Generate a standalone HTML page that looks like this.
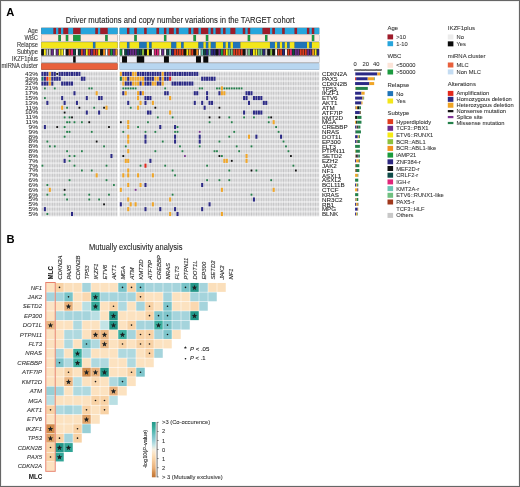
<!DOCTYPE html>
<html><head><meta charset="utf-8"><style>
html,body{margin:0;padding:0;background:#fff;}
body{width:520px;height:487px;overflow:hidden;position:relative;}
svg{position:absolute;left:0;top:0;font-family:"Liberation Sans", sans-serif;transform:translateZ(0);}
.frame{position:absolute;left:0;top:0;width:518px;height:485px;border:1px solid #666;box-shadow:inset 0 0 0 1px rgba(0,0,0,0.06);}
</style></head><body>
<svg width="520" height="487" viewBox="0 0 520 487">
<text x="6.3" y="15.7" font-size="11.2" text-anchor="start" font-weight="bold" font-style="normal" fill="#000" >A</text>
<text x="65.8" y="22.6" font-size="8.2" text-anchor="start" font-weight="normal" font-style="normal" fill="#222" stroke="#222" stroke-width="0.08" textLength="228.8" lengthAdjust="spacingAndGlyphs" >Driver mutations and copy number variations in the TARGET cohort</text>
<text x="38.0" y="32.6" font-size="6.44" text-anchor="end" font-weight="normal" font-style="normal" fill="#333" stroke="#333" stroke-width="0.08" textLength="10.23" lengthAdjust="spacingAndGlyphs" >Age</text>
<text x="38.0" y="39.72" font-size="6.44" text-anchor="end" font-weight="normal" font-style="normal" fill="#333" stroke="#333" stroke-width="0.08" textLength="13.42" lengthAdjust="spacingAndGlyphs" >WBC</text>
<text x="38.0" y="46.839999999999996" font-size="6.44" text-anchor="end" font-weight="normal" font-style="normal" fill="#333" stroke="#333" stroke-width="0.08" textLength="21.1" lengthAdjust="spacingAndGlyphs" >Relapse</text>
<text x="38.0" y="53.96" font-size="6.44" text-anchor="end" font-weight="normal" font-style="normal" fill="#333" stroke="#333" stroke-width="0.08" textLength="21.1" lengthAdjust="spacingAndGlyphs" >Subtype</text>
<text x="38.0" y="61.08" font-size="6.44" text-anchor="end" font-weight="normal" font-style="normal" fill="#333" stroke="#333" stroke-width="0.08" textLength="26.2" lengthAdjust="spacingAndGlyphs" >IKZF1plus</text>
<text x="38.0" y="68.2" font-size="6.44" text-anchor="end" font-weight="normal" font-style="normal" fill="#333" stroke="#333" stroke-width="0.08" textLength="36.42" lengthAdjust="spacingAndGlyphs" >miRNA cluster</text>
<rect x="41.20" y="27.70" width="76.41" height="6.50" fill="#555" />
<rect x="119.60" y="27.70" width="199.66" height="6.50" fill="#555" />
<rect x="41.25" y="27.90" width="12.23" height="6.10" fill="#27a5dc" />
<rect x="53.58" y="27.90" width="2.37" height="6.10" fill="#9e1b2a" />
<rect x="56.04" y="27.90" width="2.36" height="6.10" fill="#27a5dc" />
<rect x="58.50" y="27.90" width="2.37" height="6.10" fill="#9e1b2a" />
<rect x="60.97" y="27.90" width="2.37" height="6.10" fill="#27a5dc" />
<rect x="63.44" y="27.90" width="4.83" height="6.10" fill="#9e1b2a" />
<rect x="68.36" y="27.90" width="4.83" height="6.10" fill="#27a5dc" />
<rect x="73.30" y="27.90" width="7.29" height="6.10" fill="#9e1b2a" />
<rect x="80.69" y="27.90" width="14.69" height="6.10" fill="#27a5dc" />
<rect x="95.48" y="27.90" width="2.37" height="6.10" fill="#9e1b2a" />
<rect x="97.94" y="27.90" width="2.37" height="6.10" fill="#27a5dc" />
<rect x="100.41" y="27.90" width="7.30" height="6.10" fill="#9e1b2a" />
<rect x="107.80" y="27.90" width="9.76" height="6.10" fill="#27a5dc" />
<rect x="119.65" y="27.90" width="7.30" height="6.10" fill="#27a5dc" />
<rect x="127.04" y="27.90" width="2.36" height="6.10" fill="#9e1b2a" />
<rect x="129.51" y="27.90" width="4.83" height="6.10" fill="#27a5dc" />
<rect x="134.44" y="27.90" width="2.37" height="6.10" fill="#9e1b2a" />
<rect x="136.91" y="27.90" width="7.30" height="6.10" fill="#27a5dc" />
<rect x="144.30" y="27.90" width="2.37" height="6.10" fill="#9e1b2a" />
<rect x="146.77" y="27.90" width="9.76" height="6.10" fill="#27a5dc" />
<rect x="156.62" y="27.90" width="2.37" height="6.10" fill="#9e1b2a" />
<rect x="159.09" y="27.90" width="4.83" height="6.10" fill="#27a5dc" />
<rect x="164.02" y="27.90" width="2.37" height="6.10" fill="#9e1b2a" />
<rect x="166.49" y="27.90" width="2.37" height="6.10" fill="#27a5dc" />
<rect x="168.95" y="27.90" width="4.83" height="6.10" fill="#9e1b2a" />
<rect x="173.88" y="27.90" width="2.37" height="6.10" fill="#27a5dc" />
<rect x="176.34" y="27.90" width="2.37" height="6.10" fill="#9e1b2a" />
<rect x="178.81" y="27.90" width="9.76" height="6.10" fill="#27a5dc" />
<rect x="188.67" y="27.90" width="2.37" height="6.10" fill="#9e1b2a" />
<rect x="191.13" y="27.90" width="2.37" height="6.10" fill="#27a5dc" />
<rect x="193.60" y="27.90" width="4.83" height="6.10" fill="#9e1b2a" />
<rect x="198.53" y="27.90" width="2.37" height="6.10" fill="#27a5dc" />
<rect x="201.00" y="27.90" width="7.30" height="6.10" fill="#9e1b2a" />
<rect x="208.39" y="27.90" width="2.37" height="6.10" fill="#27a5dc" />
<rect x="210.86" y="27.90" width="2.37" height="6.10" fill="#9e1b2a" />
<rect x="213.32" y="27.90" width="2.37" height="6.10" fill="#27a5dc" />
<rect x="215.78" y="27.90" width="4.83" height="6.10" fill="#9e1b2a" />
<rect x="220.72" y="27.90" width="2.37" height="6.10" fill="#27a5dc" />
<rect x="223.18" y="27.90" width="2.37" height="6.10" fill="#9e1b2a" />
<rect x="225.64" y="27.90" width="4.83" height="6.10" fill="#27a5dc" />
<rect x="230.57" y="27.90" width="4.83" height="6.10" fill="#9e1b2a" />
<rect x="235.50" y="27.90" width="7.30" height="6.10" fill="#27a5dc" />
<rect x="242.90" y="27.90" width="2.37" height="6.10" fill="#9e1b2a" />
<rect x="245.37" y="27.90" width="2.37" height="6.10" fill="#27a5dc" />
<rect x="247.83" y="27.90" width="2.37" height="6.10" fill="#9e1b2a" />
<rect x="250.29" y="27.90" width="12.23" height="6.10" fill="#27a5dc" />
<rect x="262.62" y="27.90" width="7.29" height="6.10" fill="#9e1b2a" />
<rect x="270.01" y="27.90" width="2.36" height="6.10" fill="#27a5dc" />
<rect x="272.48" y="27.90" width="2.36" height="6.10" fill="#9e1b2a" />
<rect x="274.94" y="27.90" width="7.29" height="6.10" fill="#27a5dc" />
<rect x="282.34" y="27.90" width="2.36" height="6.10" fill="#9e1b2a" />
<rect x="284.81" y="27.90" width="9.76" height="6.10" fill="#27a5dc" />
<rect x="294.67" y="27.90" width="2.36" height="6.10" fill="#9e1b2a" />
<rect x="297.13" y="27.90" width="9.76" height="6.10" fill="#27a5dc" />
<rect x="306.99" y="27.90" width="2.36" height="6.10" fill="#9e1b2a" />
<rect x="309.45" y="27.90" width="2.36" height="6.10" fill="#27a5dc" />
<rect x="311.92" y="27.90" width="2.36" height="6.10" fill="#9e1b2a" />
<rect x="314.38" y="27.90" width="4.83" height="6.10" fill="#27a5dc" />
<rect x="41.20" y="34.82" width="76.41" height="6.50" fill="#555" />
<rect x="119.60" y="34.82" width="199.66" height="6.50" fill="#555" />
<rect x="41.25" y="35.02" width="17.15" height="6.10" fill="#fde9e0" />
<rect x="58.50" y="35.02" width="2.37" height="6.10" fill="#1c9a40" />
<rect x="60.97" y="35.02" width="4.83" height="6.10" fill="#fde9e0" />
<rect x="65.90" y="35.02" width="2.37" height="6.10" fill="#1c9a40" />
<rect x="68.36" y="35.02" width="4.83" height="6.10" fill="#fde9e0" />
<rect x="73.30" y="35.02" width="7.29" height="6.10" fill="#1c9a40" />
<rect x="80.69" y="35.02" width="24.55" height="6.10" fill="#fde9e0" />
<rect x="105.34" y="35.02" width="2.37" height="6.10" fill="#1c9a40" />
<rect x="107.80" y="35.02" width="9.76" height="6.10" fill="#fde9e0" />
<rect x="119.65" y="35.02" width="14.69" height="6.10" fill="#fde9e0" />
<rect x="134.44" y="35.02" width="2.37" height="6.10" fill="#1c9a40" />
<rect x="136.91" y="35.02" width="27.02" height="6.10" fill="#fde9e0" />
<rect x="164.02" y="35.02" width="2.37" height="6.10" fill="#1c9a40" />
<rect x="166.49" y="35.02" width="27.01" height="6.10" fill="#fde9e0" />
<rect x="193.60" y="35.02" width="2.37" height="6.10" fill="#1c9a40" />
<rect x="196.06" y="35.02" width="9.76" height="6.10" fill="#fde9e0" />
<rect x="205.93" y="35.02" width="2.37" height="6.10" fill="#1c9a40" />
<rect x="208.39" y="35.02" width="39.34" height="6.10" fill="#fde9e0" />
<rect x="247.83" y="35.02" width="2.37" height="6.10" fill="#1c9a40" />
<rect x="250.29" y="35.02" width="14.69" height="6.10" fill="#fde9e0" />
<rect x="265.08" y="35.02" width="2.36" height="6.10" fill="#1c9a40" />
<rect x="267.55" y="35.02" width="44.27" height="6.10" fill="#fde9e0" />
<rect x="311.92" y="35.02" width="2.36" height="6.10" fill="#1c9a40" />
<rect x="314.38" y="35.02" width="4.83" height="6.10" fill="#fde9e0" />
<rect x="41.20" y="41.94" width="76.41" height="6.50" fill="#555" />
<rect x="119.60" y="41.94" width="199.66" height="6.50" fill="#555" />
<rect x="41.25" y="42.14" width="51.66" height="6.10" fill="#f3e61a" />
<rect x="93.02" y="42.14" width="2.37" height="6.10" fill="#1f74b8" />
<rect x="95.48" y="42.14" width="22.08" height="6.10" fill="#f3e61a" />
<rect x="119.65" y="42.14" width="7.30" height="6.10" fill="#f3e61a" />
<rect x="127.04" y="42.14" width="2.36" height="6.10" fill="#1f74b8" />
<rect x="129.51" y="42.14" width="9.76" height="6.10" fill="#f3e61a" />
<rect x="139.37" y="42.14" width="7.30" height="6.10" fill="#1f74b8" />
<rect x="146.77" y="42.14" width="2.37" height="6.10" fill="#f3e61a" />
<rect x="149.23" y="42.14" width="2.37" height="6.10" fill="#1f74b8" />
<rect x="151.69" y="42.14" width="19.62" height="6.10" fill="#f3e61a" />
<rect x="171.42" y="42.14" width="4.83" height="6.10" fill="#1f74b8" />
<rect x="176.34" y="42.14" width="4.83" height="6.10" fill="#f3e61a" />
<rect x="181.28" y="42.14" width="2.37" height="6.10" fill="#1f74b8" />
<rect x="183.74" y="42.14" width="14.69" height="6.10" fill="#f3e61a" />
<rect x="198.53" y="42.14" width="4.83" height="6.10" fill="#1f74b8" />
<rect x="203.46" y="42.14" width="2.37" height="6.10" fill="#f3e61a" />
<rect x="205.93" y="42.14" width="2.37" height="6.10" fill="#1f74b8" />
<rect x="208.39" y="42.14" width="2.37" height="6.10" fill="#f3e61a" />
<rect x="210.86" y="42.14" width="4.83" height="6.10" fill="#1f74b8" />
<rect x="215.78" y="42.14" width="7.30" height="6.10" fill="#f3e61a" />
<rect x="223.18" y="42.14" width="2.37" height="6.10" fill="#1f74b8" />
<rect x="225.64" y="42.14" width="2.37" height="6.10" fill="#f3e61a" />
<rect x="228.11" y="42.14" width="2.37" height="6.10" fill="#1f74b8" />
<rect x="230.57" y="42.14" width="2.37" height="6.10" fill="#f3e61a" />
<rect x="233.04" y="42.14" width="7.30" height="6.10" fill="#1f74b8" />
<rect x="240.44" y="42.14" width="29.48" height="6.10" fill="#f3e61a" />
<rect x="270.01" y="42.14" width="4.83" height="6.10" fill="#1f74b8" />
<rect x="274.94" y="42.14" width="2.36" height="6.10" fill="#f3e61a" />
<rect x="277.41" y="42.14" width="2.36" height="6.10" fill="#1f74b8" />
<rect x="279.88" y="42.14" width="2.36" height="6.10" fill="#f3e61a" />
<rect x="282.34" y="42.14" width="2.36" height="6.10" fill="#1f74b8" />
<rect x="284.81" y="42.14" width="2.36" height="6.10" fill="#f3e61a" />
<rect x="287.27" y="42.14" width="2.36" height="6.10" fill="#1f74b8" />
<rect x="289.73" y="42.14" width="4.83" height="6.10" fill="#f3e61a" />
<rect x="294.67" y="42.14" width="12.22" height="6.10" fill="#1f74b8" />
<rect x="306.99" y="42.14" width="2.36" height="6.10" fill="#f3e61a" />
<rect x="309.45" y="42.14" width="2.36" height="6.10" fill="#1f74b8" />
<rect x="311.92" y="42.14" width="7.29" height="6.10" fill="#f3e61a" />
<rect x="41.20" y="49.06" width="76.41" height="6.50" fill="#1a1a1a" />
<rect x="119.60" y="49.06" width="199.66" height="6.50" fill="#1a1a1a" />
<rect x="41.50" y="49.26" width="1.86" height="6.10" fill="#111111" />
<rect x="43.97" y="49.26" width="1.86" height="6.10" fill="#f6ea14" />
<rect x="46.43" y="49.26" width="1.86" height="6.10" fill="#c8c8c8" />
<rect x="48.89" y="49.26" width="1.86" height="6.10" fill="#c8c8c8" />
<rect x="51.36" y="49.26" width="1.86" height="6.10" fill="#6a2c8c" />
<rect x="53.83" y="49.26" width="1.86" height="6.10" fill="#ffffff" />
<rect x="56.29" y="49.26" width="1.86" height="6.10" fill="#6a2c8c" />
<rect x="58.75" y="49.26" width="1.86" height="6.10" fill="#f6ea14" />
<rect x="61.22" y="49.26" width="1.86" height="6.10" fill="#f6ea14" />
<rect x="63.69" y="49.26" width="1.86" height="6.10" fill="#ffffff" />
<rect x="66.15" y="49.26" width="1.86" height="6.10" fill="#111111" />
<rect x="68.61" y="49.26" width="1.86" height="6.10" fill="#e03c1e" />
<rect x="71.08" y="49.26" width="1.86" height="6.10" fill="#e0267a" />
<rect x="73.55" y="49.26" width="1.86" height="6.10" fill="#0e4a48" />
<rect x="76.01" y="49.26" width="1.86" height="6.10" fill="#ffffff" />
<rect x="78.47" y="49.26" width="1.86" height="6.10" fill="#0e4a48" />
<rect x="80.94" y="49.26" width="1.86" height="6.10" fill="#e03c1e" />
<rect x="83.41" y="49.26" width="1.86" height="6.10" fill="#6a2c8c" />
<rect x="85.87" y="49.26" width="1.86" height="6.10" fill="#f6ea14" />
<rect x="88.33" y="49.26" width="1.86" height="6.10" fill="#e03c1e" />
<rect x="90.80" y="49.26" width="1.86" height="6.10" fill="#6a2c8c" />
<rect x="93.27" y="49.26" width="1.86" height="6.10" fill="#e03c1e" />
<rect x="95.73" y="49.26" width="1.86" height="6.10" fill="#e03c1e" />
<rect x="98.19" y="49.26" width="1.86" height="6.10" fill="#f6ea14" />
<rect x="100.66" y="49.26" width="1.86" height="6.10" fill="#111111" />
<rect x="103.12" y="49.26" width="1.86" height="6.10" fill="#f39020" />
<rect x="105.59" y="49.26" width="1.86" height="6.10" fill="#ffffff" />
<rect x="108.05" y="49.26" width="1.86" height="6.10" fill="#e03c1e" />
<rect x="110.52" y="49.26" width="1.86" height="6.10" fill="#1a9a3c" />
<rect x="112.98" y="49.26" width="1.86" height="6.10" fill="#6a2c8c" />
<rect x="115.45" y="49.26" width="1.86" height="6.10" fill="#f39020" />
<rect x="119.90" y="49.26" width="1.86" height="6.10" fill="#1a9a3c" />
<rect x="122.36" y="49.26" width="1.86" height="6.10" fill="#ffffff" />
<rect x="124.83" y="49.26" width="1.86" height="6.10" fill="#0e4a48" />
<rect x="127.29" y="49.26" width="1.86" height="6.10" fill="#2c2780" />
<rect x="129.76" y="49.26" width="1.86" height="6.10" fill="#6a2c8c" />
<rect x="132.22" y="49.26" width="1.86" height="6.10" fill="#6a2c8c" />
<rect x="134.69" y="49.26" width="1.86" height="6.10" fill="#6a2c8c" />
<rect x="137.16" y="49.26" width="1.86" height="6.10" fill="#0e4a48" />
<rect x="139.62" y="49.26" width="1.86" height="6.10" fill="#0e4a48" />
<rect x="142.09" y="49.26" width="1.86" height="6.10" fill="#8cc03c" />
<rect x="144.55" y="49.26" width="1.86" height="6.10" fill="#111111" />
<rect x="147.02" y="49.26" width="1.86" height="6.10" fill="#f6ea14" />
<rect x="149.48" y="49.26" width="1.86" height="6.10" fill="#111111" />
<rect x="151.94" y="49.26" width="1.86" height="6.10" fill="#ffffff" />
<rect x="154.41" y="49.26" width="1.86" height="6.10" fill="#e0267a" />
<rect x="156.88" y="49.26" width="1.86" height="6.10" fill="#e0267a" />
<rect x="159.34" y="49.26" width="1.86" height="6.10" fill="#ffffff" />
<rect x="161.81" y="49.26" width="1.86" height="6.10" fill="#6a2c8c" />
<rect x="164.27" y="49.26" width="1.86" height="6.10" fill="#ffffff" />
<rect x="166.74" y="49.26" width="1.86" height="6.10" fill="#0e4a48" />
<rect x="169.20" y="49.26" width="1.86" height="6.10" fill="#6cc4b4" />
<rect x="171.67" y="49.26" width="1.86" height="6.10" fill="#2c2780" />
<rect x="174.13" y="49.26" width="1.86" height="6.10" fill="#e03c1e" />
<rect x="176.59" y="49.26" width="1.86" height="6.10" fill="#e03c1e" />
<rect x="179.06" y="49.26" width="1.86" height="6.10" fill="#e03c1e" />
<rect x="181.53" y="49.26" width="1.86" height="6.10" fill="#e03c1e" />
<rect x="183.99" y="49.26" width="1.86" height="6.10" fill="#111111" />
<rect x="186.45" y="49.26" width="1.86" height="6.10" fill="#f6ea14" />
<rect x="188.92" y="49.26" width="1.86" height="6.10" fill="#f39020" />
<rect x="191.38" y="49.26" width="1.86" height="6.10" fill="#e03c1e" />
<rect x="193.85" y="49.26" width="1.86" height="6.10" fill="#111111" />
<rect x="196.31" y="49.26" width="1.86" height="6.10" fill="#f39020" />
<rect x="198.78" y="49.26" width="1.86" height="6.10" fill="#ffffff" />
<rect x="201.25" y="49.26" width="1.86" height="6.10" fill="#6cc4b4" />
<rect x="203.71" y="49.26" width="1.86" height="6.10" fill="#0e4a48" />
<rect x="206.18" y="49.26" width="1.86" height="6.10" fill="#2c2780" />
<rect x="208.64" y="49.26" width="1.86" height="6.10" fill="#6cc4b4" />
<rect x="211.11" y="49.26" width="1.86" height="6.10" fill="#2c2780" />
<rect x="213.57" y="49.26" width="1.86" height="6.10" fill="#2c2780" />
<rect x="216.03" y="49.26" width="1.86" height="6.10" fill="#111111" />
<rect x="218.50" y="49.26" width="1.86" height="6.10" fill="#6a2c8c" />
<rect x="220.97" y="49.26" width="1.86" height="6.10" fill="#1a9a3c" />
<rect x="223.43" y="49.26" width="1.86" height="6.10" fill="#e03c1e" />
<rect x="225.89" y="49.26" width="1.86" height="6.10" fill="#f6ea14" />
<rect x="228.36" y="49.26" width="1.86" height="6.10" fill="#70c080" />
<rect x="230.82" y="49.26" width="1.86" height="6.10" fill="#70c080" />
<rect x="233.29" y="49.26" width="1.86" height="6.10" fill="#e03c1e" />
<rect x="235.75" y="49.26" width="1.86" height="6.10" fill="#e03c1e" />
<rect x="238.22" y="49.26" width="1.86" height="6.10" fill="#e03c1e" />
<rect x="240.69" y="49.26" width="1.86" height="6.10" fill="#e03c1e" />
<rect x="243.15" y="49.26" width="1.86" height="6.10" fill="#111111" />
<rect x="245.62" y="49.26" width="1.86" height="6.10" fill="#c8c8c8" />
<rect x="248.08" y="49.26" width="1.86" height="6.10" fill="#70c080" />
<rect x="250.54" y="49.26" width="1.86" height="6.10" fill="#2c2780" />
<rect x="253.01" y="49.26" width="1.86" height="6.10" fill="#f6ea14" />
<rect x="255.47" y="49.26" width="1.86" height="6.10" fill="#f6ea14" />
<rect x="257.94" y="49.26" width="1.86" height="6.10" fill="#70c080" />
<rect x="260.41" y="49.26" width="1.86" height="6.10" fill="#70c080" />
<rect x="262.87" y="49.26" width="1.86" height="6.10" fill="#2c2780" />
<rect x="265.33" y="49.26" width="1.86" height="6.10" fill="#c8c8c8" />
<rect x="267.80" y="49.26" width="1.86" height="6.10" fill="#111111" />
<rect x="270.26" y="49.26" width="1.86" height="6.10" fill="#8cc03c" />
<rect x="272.73" y="49.26" width="1.86" height="6.10" fill="#111111" />
<rect x="275.19" y="49.26" width="1.86" height="6.10" fill="#ffffff" />
<rect x="277.66" y="49.26" width="1.86" height="6.10" fill="#e03c1e" />
<rect x="280.12" y="49.26" width="1.86" height="6.10" fill="#e03c1e" />
<rect x="282.59" y="49.26" width="1.86" height="6.10" fill="#2c2780" />
<rect x="285.06" y="49.26" width="1.86" height="6.10" fill="#ffffff" />
<rect x="287.52" y="49.26" width="1.86" height="6.10" fill="#e03c1e" />
<rect x="289.98" y="49.26" width="1.86" height="6.10" fill="#e0267a" />
<rect x="292.45" y="49.26" width="1.86" height="6.10" fill="#0e4a48" />
<rect x="294.92" y="49.26" width="1.86" height="6.10" fill="#6a2c8c" />
<rect x="297.38" y="49.26" width="1.86" height="6.10" fill="#6a2c8c" />
<rect x="299.84" y="49.26" width="1.86" height="6.10" fill="#e03c1e" />
<rect x="302.31" y="49.26" width="1.86" height="6.10" fill="#e03c1e" />
<rect x="304.78" y="49.26" width="1.86" height="6.10" fill="#e03c1e" />
<rect x="307.24" y="49.26" width="1.86" height="6.10" fill="#6a2c8c" />
<rect x="309.70" y="49.26" width="1.86" height="6.10" fill="#6a2c8c" />
<rect x="312.17" y="49.26" width="1.86" height="6.10" fill="#f39020" />
<rect x="314.63" y="49.26" width="1.86" height="6.10" fill="#f6ea14" />
<rect x="317.10" y="49.26" width="1.86" height="6.10" fill="#2c2780" />
<rect x="41.20" y="56.18" width="76.41" height="6.50" fill="#555" />
<rect x="119.60" y="56.18" width="199.66" height="6.50" fill="#555" />
<rect x="41.25" y="56.38" width="31.95" height="6.10" fill="#eeeef4" />
<rect x="73.30" y="56.38" width="2.37" height="6.10" fill="#0a0a0a" />
<rect x="75.76" y="56.38" width="41.80" height="6.10" fill="#eeeef4" />
<rect x="119.65" y="56.38" width="2.37" height="6.10" fill="#eeeef4" />
<rect x="122.11" y="56.38" width="4.83" height="6.10" fill="#0a0a0a" />
<rect x="127.04" y="56.38" width="9.76" height="6.10" fill="#eeeef4" />
<rect x="136.91" y="56.38" width="7.30" height="6.10" fill="#0a0a0a" />
<rect x="144.30" y="56.38" width="19.62" height="6.10" fill="#eeeef4" />
<rect x="164.02" y="56.38" width="4.83" height="6.10" fill="#0a0a0a" />
<rect x="168.95" y="56.38" width="27.02" height="6.10" fill="#eeeef4" />
<rect x="196.06" y="56.38" width="4.83" height="6.10" fill="#0a0a0a" />
<rect x="201.00" y="56.38" width="2.37" height="6.10" fill="#eeeef4" />
<rect x="203.46" y="56.38" width="4.83" height="6.10" fill="#0a0a0a" />
<rect x="208.39" y="56.38" width="110.82" height="6.10" fill="#eeeef4" />
<rect x="41.20" y="63.30" width="76.41" height="6.50" fill="#8a3a20" />
<rect x="41.40" y="63.50" width="76.01" height="5.90" fill="#e8603c" />
<rect x="119.60" y="63.30" width="199.66" height="6.50" fill="#8aa0b8" />
<rect x="119.80" y="63.50" width="199.26" height="5.90" fill="#b8d6f0" />
<text x="321.9" y="76.11500000000001" font-size="6.25" text-anchor="start" font-weight="normal" font-style="normal" fill="#222" stroke="#222" stroke-width="0.08" >CDKN2A</text>
<text x="38.0" y="75.81500000000001" font-size="5.72" text-anchor="end" font-weight="normal" font-style="normal" fill="#333" stroke="#333" stroke-width="0.08" textLength="13.01" lengthAdjust="spacingAndGlyphs" >43%</text>
<text x="321.9" y="80.94500000000001" font-size="6.25" text-anchor="start" font-weight="normal" font-style="normal" fill="#222" stroke="#222" stroke-width="0.08" >PAX5</text>
<text x="38.0" y="80.64500000000001" font-size="5.72" text-anchor="end" font-weight="normal" font-style="normal" fill="#333" stroke="#333" stroke-width="0.08" textLength="13.01" lengthAdjust="spacingAndGlyphs" >34%</text>
<text x="321.9" y="85.775" font-size="6.25" text-anchor="start" font-weight="normal" font-style="normal" fill="#222" stroke="#222" stroke-width="0.08" >CDKN2B</text>
<text x="38.0" y="85.47500000000001" font-size="5.72" text-anchor="end" font-weight="normal" font-style="normal" fill="#333" stroke="#333" stroke-width="0.08" textLength="13.01" lengthAdjust="spacingAndGlyphs" >32%</text>
<text x="321.9" y="90.605" font-size="6.25" text-anchor="start" font-weight="normal" font-style="normal" fill="#222" stroke="#222" stroke-width="0.08" >TP53</text>
<text x="38.0" y="90.305" font-size="5.72" text-anchor="end" font-weight="normal" font-style="normal" fill="#333" stroke="#333" stroke-width="0.08" textLength="13.01" lengthAdjust="spacingAndGlyphs" >21%</text>
<text x="321.9" y="95.435" font-size="6.25" text-anchor="start" font-weight="normal" font-style="normal" fill="#222" stroke="#222" stroke-width="0.08" >IKZF1</text>
<text x="38.0" y="95.135" font-size="5.72" text-anchor="end" font-weight="normal" font-style="normal" fill="#333" stroke="#333" stroke-width="0.08" textLength="13.01" lengthAdjust="spacingAndGlyphs" >17%</text>
<text x="321.9" y="100.26500000000001" font-size="6.25" text-anchor="start" font-weight="normal" font-style="normal" fill="#222" stroke="#222" stroke-width="0.08" >ETV6</text>
<text x="38.0" y="99.96500000000002" font-size="5.72" text-anchor="end" font-weight="normal" font-style="normal" fill="#333" stroke="#333" stroke-width="0.08" textLength="13.01" lengthAdjust="spacingAndGlyphs" >15%</text>
<text x="321.9" y="105.09500000000001" font-size="6.25" text-anchor="start" font-weight="normal" font-style="normal" fill="#222" stroke="#222" stroke-width="0.08" >AKT1</text>
<text x="38.0" y="104.79500000000002" font-size="5.72" text-anchor="end" font-weight="normal" font-style="normal" fill="#333" stroke="#333" stroke-width="0.08" textLength="13.01" lengthAdjust="spacingAndGlyphs" >13%</text>
<text x="321.9" y="109.92500000000001" font-size="6.25" text-anchor="start" font-weight="normal" font-style="normal" fill="#222" stroke="#222" stroke-width="0.08" >ATM</text>
<text x="38.0" y="109.62500000000001" font-size="5.72" text-anchor="end" font-weight="normal" font-style="normal" fill="#333" stroke="#333" stroke-width="0.08" textLength="12.53" lengthAdjust="spacingAndGlyphs" >11%</text>
<text x="321.9" y="114.75500000000001" font-size="6.25" text-anchor="start" font-weight="normal" font-style="normal" fill="#222" stroke="#222" stroke-width="0.08" >ATF7IP</text>
<text x="38.0" y="114.45500000000001" font-size="5.72" text-anchor="end" font-weight="normal" font-style="normal" fill="#333" stroke="#333" stroke-width="0.08" textLength="13.01" lengthAdjust="spacingAndGlyphs" >10%</text>
<text x="321.9" y="119.58500000000001" font-size="6.25" text-anchor="start" font-weight="normal" font-style="normal" fill="#222" stroke="#222" stroke-width="0.08" >KMT2D</text>
<text x="38.0" y="119.28500000000001" font-size="5.72" text-anchor="end" font-weight="normal" font-style="normal" fill="#333" stroke="#333" stroke-width="0.08" textLength="12.53" lengthAdjust="spacingAndGlyphs" >11%</text>
<text x="321.9" y="124.415" font-size="6.25" text-anchor="start" font-weight="normal" font-style="normal" fill="#222" stroke="#222" stroke-width="0.08" >MGA</text>
<text x="38.0" y="124.11500000000001" font-size="5.72" text-anchor="end" font-weight="normal" font-style="normal" fill="#333" stroke="#333" stroke-width="0.08" textLength="12.53" lengthAdjust="spacingAndGlyphs" >11%</text>
<text x="321.9" y="129.245" font-size="6.25" text-anchor="start" font-weight="normal" font-style="normal" fill="#222" stroke="#222" stroke-width="0.08" >CREBBP</text>
<text x="38.0" y="128.945" font-size="5.72" text-anchor="end" font-weight="normal" font-style="normal" fill="#333" stroke="#333" stroke-width="0.08" textLength="9.39" lengthAdjust="spacingAndGlyphs" >9%</text>
<text x="321.9" y="134.075" font-size="6.25" text-anchor="start" font-weight="normal" font-style="normal" fill="#222" stroke="#222" stroke-width="0.08" >NRAS</text>
<text x="38.0" y="133.775" font-size="5.72" text-anchor="end" font-weight="normal" font-style="normal" fill="#333" stroke="#333" stroke-width="0.08" textLength="9.39" lengthAdjust="spacingAndGlyphs" >9%</text>
<text x="321.9" y="138.90499999999997" font-size="6.25" text-anchor="start" font-weight="normal" font-style="normal" fill="#222" stroke="#222" stroke-width="0.08" >DOT1L</text>
<text x="38.0" y="138.605" font-size="5.72" text-anchor="end" font-weight="normal" font-style="normal" fill="#333" stroke="#333" stroke-width="0.08" textLength="9.39" lengthAdjust="spacingAndGlyphs" >8%</text>
<text x="321.9" y="143.73499999999999" font-size="6.25" text-anchor="start" font-weight="normal" font-style="normal" fill="#222" stroke="#222" stroke-width="0.08" >EP300</text>
<text x="38.0" y="143.435" font-size="5.72" text-anchor="end" font-weight="normal" font-style="normal" fill="#333" stroke="#333" stroke-width="0.08" textLength="9.39" lengthAdjust="spacingAndGlyphs" >8%</text>
<text x="321.9" y="148.56499999999997" font-size="6.25" text-anchor="start" font-weight="normal" font-style="normal" fill="#222" stroke="#222" stroke-width="0.08" >FLT3</text>
<text x="38.0" y="148.265" font-size="5.72" text-anchor="end" font-weight="normal" font-style="normal" fill="#333" stroke="#333" stroke-width="0.08" textLength="9.39" lengthAdjust="spacingAndGlyphs" >8%</text>
<text x="321.9" y="153.39499999999998" font-size="6.25" text-anchor="start" font-weight="normal" font-style="normal" fill="#222" stroke="#222" stroke-width="0.08" >PTPN11</text>
<text x="38.0" y="153.095" font-size="5.72" text-anchor="end" font-weight="normal" font-style="normal" fill="#333" stroke="#333" stroke-width="0.08" textLength="9.39" lengthAdjust="spacingAndGlyphs" >8%</text>
<text x="321.9" y="158.225" font-size="6.25" text-anchor="start" font-weight="normal" font-style="normal" fill="#222" stroke="#222" stroke-width="0.08" >SETD2</text>
<text x="38.0" y="157.925" font-size="5.72" text-anchor="end" font-weight="normal" font-style="normal" fill="#333" stroke="#333" stroke-width="0.08" textLength="9.39" lengthAdjust="spacingAndGlyphs" >8%</text>
<text x="321.9" y="163.05499999999998" font-size="6.25" text-anchor="start" font-weight="normal" font-style="normal" fill="#222" stroke="#222" stroke-width="0.08" >EZH2</text>
<text x="38.0" y="162.755" font-size="5.72" text-anchor="end" font-weight="normal" font-style="normal" fill="#333" stroke="#333" stroke-width="0.08" textLength="9.39" lengthAdjust="spacingAndGlyphs" >7%</text>
<text x="321.9" y="167.88499999999996" font-size="6.25" text-anchor="start" font-weight="normal" font-style="normal" fill="#222" stroke="#222" stroke-width="0.08" >JAK2</text>
<text x="38.0" y="167.58499999999998" font-size="5.72" text-anchor="end" font-weight="normal" font-style="normal" fill="#333" stroke="#333" stroke-width="0.08" textLength="9.39" lengthAdjust="spacingAndGlyphs" >7%</text>
<text x="321.9" y="172.71499999999997" font-size="6.25" text-anchor="start" font-weight="normal" font-style="normal" fill="#222" stroke="#222" stroke-width="0.08" >NF1</text>
<text x="38.0" y="172.415" font-size="5.72" text-anchor="end" font-weight="normal" font-style="normal" fill="#333" stroke="#333" stroke-width="0.08" textLength="9.39" lengthAdjust="spacingAndGlyphs" >7%</text>
<text x="321.9" y="177.545" font-size="6.25" text-anchor="start" font-weight="normal" font-style="normal" fill="#222" stroke="#222" stroke-width="0.08" >ASXL1</text>
<text x="38.0" y="177.245" font-size="5.72" text-anchor="end" font-weight="normal" font-style="normal" fill="#333" stroke="#333" stroke-width="0.08" textLength="9.39" lengthAdjust="spacingAndGlyphs" >7%</text>
<text x="321.9" y="182.37499999999997" font-size="6.25" text-anchor="start" font-weight="normal" font-style="normal" fill="#222" stroke="#222" stroke-width="0.08" >ASXL2</text>
<text x="38.0" y="182.075" font-size="5.72" text-anchor="end" font-weight="normal" font-style="normal" fill="#333" stroke="#333" stroke-width="0.08" textLength="9.39" lengthAdjust="spacingAndGlyphs" >6%</text>
<text x="321.9" y="187.20499999999998" font-size="6.25" text-anchor="start" font-weight="normal" font-style="normal" fill="#222" stroke="#222" stroke-width="0.08" >BCL11B</text>
<text x="38.0" y="186.905" font-size="5.72" text-anchor="end" font-weight="normal" font-style="normal" fill="#333" stroke="#333" stroke-width="0.08" textLength="9.39" lengthAdjust="spacingAndGlyphs" >6%</text>
<text x="321.9" y="192.035" font-size="6.25" text-anchor="start" font-weight="normal" font-style="normal" fill="#222" stroke="#222" stroke-width="0.08" >CTCF</text>
<text x="38.0" y="191.735" font-size="5.72" text-anchor="end" font-weight="normal" font-style="normal" fill="#333" stroke="#333" stroke-width="0.08" textLength="9.39" lengthAdjust="spacingAndGlyphs" >6%</text>
<text x="321.9" y="196.86499999999998" font-size="6.25" text-anchor="start" font-weight="normal" font-style="normal" fill="#222" stroke="#222" stroke-width="0.08" >KRAS</text>
<text x="38.0" y="196.565" font-size="5.72" text-anchor="end" font-weight="normal" font-style="normal" fill="#333" stroke="#333" stroke-width="0.08" textLength="9.39" lengthAdjust="spacingAndGlyphs" >6%</text>
<text x="321.9" y="201.69499999999996" font-size="6.25" text-anchor="start" font-weight="normal" font-style="normal" fill="#222" stroke="#222" stroke-width="0.08" >NR3C2</text>
<text x="38.0" y="201.39499999999998" font-size="5.72" text-anchor="end" font-weight="normal" font-style="normal" fill="#333" stroke="#333" stroke-width="0.08" textLength="9.39" lengthAdjust="spacingAndGlyphs" >5%</text>
<text x="321.9" y="206.52499999999998" font-size="6.25" text-anchor="start" font-weight="normal" font-style="normal" fill="#222" stroke="#222" stroke-width="0.08" >RB1</text>
<text x="38.0" y="206.225" font-size="5.72" text-anchor="end" font-weight="normal" font-style="normal" fill="#333" stroke="#333" stroke-width="0.08" textLength="9.39" lengthAdjust="spacingAndGlyphs" >5%</text>
<text x="321.9" y="211.355" font-size="6.25" text-anchor="start" font-weight="normal" font-style="normal" fill="#222" stroke="#222" stroke-width="0.08" >MPG</text>
<text x="38.0" y="211.055" font-size="5.72" text-anchor="end" font-weight="normal" font-style="normal" fill="#333" stroke="#333" stroke-width="0.08" textLength="9.39" lengthAdjust="spacingAndGlyphs" >5%</text>
<text x="321.9" y="216.18499999999997" font-size="6.25" text-anchor="start" font-weight="normal" font-style="normal" fill="#222" stroke="#222" stroke-width="0.08" >BLNK</text>
<text x="38.0" y="215.885" font-size="5.72" text-anchor="end" font-weight="normal" font-style="normal" fill="#333" stroke="#333" stroke-width="0.08" textLength="9.39" lengthAdjust="spacingAndGlyphs" >5%</text>
<rect x="41.20" y="71.50" width="76.41" height="144.90" fill="#fdfdfd" />
<rect x="119.60" y="71.50" width="199.66" height="144.90" fill="#fdfdfd" />
<defs><pattern id="gp1" patternUnits="userSpaceOnUse" x="41.2" y="71.5" width="2.465" height="4.83"><rect x="0.37" y="0.47" width="1.725" height="3.890" fill="#c3c3c5"/></pattern><pattern id="gp2" patternUnits="userSpaceOnUse" x="119.6" y="71.5" width="2.465" height="4.83"><rect x="0.37" y="0.47" width="1.725" height="3.890" fill="#c3c3c5"/></pattern></defs>
<rect x="41.20" y="71.50" width="76.41" height="144.90" fill="url(#gp1)" />
<rect x="119.60" y="71.50" width="199.66" height="144.90" fill="url(#gp2)" />
<rect x="41.42" y="71.88" width="2.02" height="4.07" fill="#2b2985" />
<rect x="43.89" y="71.88" width="2.02" height="4.07" fill="#2b2985" />
<rect x="46.35" y="71.88" width="2.02" height="4.07" fill="#2b2985" />
<rect x="51.28" y="71.88" width="2.02" height="4.07" fill="#2b2985" />
<rect x="53.75" y="71.88" width="2.02" height="4.07" fill="#2b2985" />
<rect x="58.67" y="71.88" width="2.02" height="4.07" fill="#2b2985" />
<rect x="61.14" y="71.88" width="2.02" height="4.07" fill="#2b2985" />
<rect x="63.61" y="71.88" width="2.02" height="4.07" fill="#2b2985" />
<rect x="66.07" y="71.88" width="2.02" height="4.07" fill="#2b2985" />
<rect x="68.53" y="71.88" width="2.02" height="4.07" fill="#2b2985" />
<rect x="71.00" y="71.88" width="2.02" height="4.07" fill="#2b2985" />
<rect x="73.47" y="71.88" width="2.02" height="4.07" fill="#2b2985" />
<rect x="75.93" y="71.88" width="2.02" height="4.07" fill="#2b2985" />
<rect x="78.39" y="71.88" width="2.02" height="4.07" fill="#2b2985" />
<rect x="48.81" y="71.88" width="2.02" height="4.07" fill="#f0a526" />
<rect x="56.34" y="72.97" width="1.76" height="1.90" fill="#111111" />
<rect x="122.28" y="71.88" width="2.02" height="4.07" fill="#2b2985" />
<rect x="124.75" y="71.88" width="2.02" height="4.07" fill="#2b2985" />
<rect x="127.21" y="71.88" width="2.02" height="4.07" fill="#2b2985" />
<rect x="129.68" y="71.88" width="2.02" height="4.07" fill="#2b2985" />
<rect x="137.07" y="71.88" width="2.02" height="4.07" fill="#2b2985" />
<rect x="139.54" y="71.88" width="2.02" height="4.07" fill="#2b2985" />
<rect x="142.00" y="71.88" width="2.02" height="4.07" fill="#2b2985" />
<rect x="144.47" y="71.88" width="2.02" height="4.07" fill="#2b2985" />
<rect x="146.94" y="71.88" width="2.02" height="4.07" fill="#2b2985" />
<rect x="149.40" y="71.88" width="2.02" height="4.07" fill="#2b2985" />
<rect x="151.86" y="71.88" width="2.02" height="4.07" fill="#2b2985" />
<rect x="154.33" y="71.88" width="2.02" height="4.07" fill="#2b2985" />
<rect x="156.79" y="71.88" width="2.02" height="4.07" fill="#2b2985" />
<rect x="159.26" y="71.88" width="2.02" height="4.07" fill="#2b2985" />
<rect x="164.19" y="71.88" width="2.02" height="4.07" fill="#2b2985" />
<rect x="166.66" y="71.88" width="2.02" height="4.07" fill="#2b2985" />
<rect x="171.59" y="71.88" width="2.02" height="4.07" fill="#2b2985" />
<rect x="174.05" y="71.88" width="2.02" height="4.07" fill="#2b2985" />
<rect x="176.51" y="71.88" width="2.02" height="4.07" fill="#2b2985" />
<rect x="178.98" y="71.88" width="2.02" height="4.07" fill="#2b2985" />
<rect x="181.44" y="71.88" width="2.02" height="4.07" fill="#2b2985" />
<rect x="183.91" y="71.88" width="2.02" height="4.07" fill="#2b2985" />
<rect x="186.37" y="71.88" width="2.02" height="4.07" fill="#2b2985" />
<rect x="188.84" y="71.88" width="2.02" height="4.07" fill="#2b2985" />
<rect x="191.30" y="71.88" width="2.02" height="4.07" fill="#2b2985" />
<rect x="193.77" y="71.88" width="2.02" height="4.07" fill="#2b2985" />
<rect x="196.23" y="71.88" width="2.02" height="4.07" fill="#2b2985" />
<rect x="119.82" y="71.88" width="2.02" height="4.07" fill="#f0a526" />
<rect x="132.14" y="71.88" width="2.02" height="4.07" fill="#f0a526" />
<rect x="134.61" y="71.88" width="2.02" height="4.07" fill="#f0a526" />
<rect x="161.72" y="71.88" width="2.02" height="4.07" fill="#f0a526" />
<rect x="169.12" y="71.88" width="2.02" height="4.07" fill="#5a2d8c" />
<rect x="41.42" y="76.71" width="2.02" height="4.07" fill="#1e6a6a" />
<rect x="43.89" y="76.71" width="2.02" height="4.07" fill="#2b2985" />
<rect x="51.28" y="76.71" width="2.02" height="4.07" fill="#2b2985" />
<rect x="53.75" y="76.71" width="2.02" height="4.07" fill="#2b2985" />
<rect x="56.21" y="76.71" width="2.02" height="4.07" fill="#2b2985" />
<rect x="58.67" y="76.71" width="2.02" height="4.07" fill="#2b2985" />
<rect x="80.86" y="76.71" width="2.02" height="4.07" fill="#2b2985" />
<rect x="83.33" y="76.71" width="2.02" height="4.07" fill="#2b2985" />
<rect x="46.35" y="76.71" width="2.02" height="4.07" fill="#e3281c" />
<rect x="48.81" y="76.71" width="2.02" height="4.07" fill="#f0a526" />
<rect x="119.82" y="76.71" width="2.02" height="4.07" fill="#1f7a4a" />
<rect x="122.28" y="76.71" width="2.02" height="4.07" fill="#f0a526" />
<rect x="124.75" y="76.71" width="2.02" height="4.07" fill="#f0a526" />
<rect x="129.68" y="76.71" width="2.02" height="4.07" fill="#f0a526" />
<rect x="132.14" y="76.71" width="2.02" height="4.07" fill="#f0a526" />
<rect x="134.61" y="76.71" width="2.02" height="4.07" fill="#f0a526" />
<rect x="137.07" y="76.71" width="2.02" height="4.07" fill="#f0a526" />
<rect x="139.54" y="76.71" width="2.02" height="4.07" fill="#f0a526" />
<rect x="142.00" y="76.71" width="2.02" height="4.07" fill="#f0a526" />
<rect x="154.33" y="76.71" width="2.02" height="4.07" fill="#f0a526" />
<rect x="156.79" y="76.71" width="2.02" height="4.07" fill="#f0a526" />
<rect x="161.72" y="76.71" width="2.02" height="4.07" fill="#f0a526" />
<rect x="127.21" y="76.71" width="2.02" height="4.07" fill="#2b2985" />
<rect x="144.47" y="76.71" width="2.02" height="4.07" fill="#2b2985" />
<rect x="146.94" y="76.71" width="2.02" height="4.07" fill="#2b2985" />
<rect x="149.40" y="76.71" width="2.02" height="4.07" fill="#2b2985" />
<rect x="151.86" y="76.71" width="2.02" height="4.07" fill="#2b2985" />
<rect x="159.26" y="76.71" width="2.02" height="4.07" fill="#2b2985" />
<rect x="164.19" y="76.71" width="2.02" height="4.07" fill="#2b2985" />
<rect x="166.66" y="76.71" width="2.02" height="4.07" fill="#2b2985" />
<rect x="201.16" y="76.71" width="2.02" height="4.07" fill="#2b2985" />
<rect x="203.63" y="76.71" width="2.02" height="4.07" fill="#2b2985" />
<rect x="206.09" y="76.71" width="2.02" height="4.07" fill="#2b2985" />
<rect x="208.56" y="76.71" width="2.02" height="4.07" fill="#2b2985" />
<rect x="211.03" y="76.71" width="2.02" height="4.07" fill="#2b2985" />
<rect x="213.49" y="76.71" width="2.02" height="4.07" fill="#2b2985" />
<rect x="169.12" y="76.71" width="2.02" height="4.07" fill="#e3281c" />
<rect x="41.42" y="81.54" width="2.02" height="4.07" fill="#2b2985" />
<rect x="43.89" y="81.54" width="2.02" height="4.07" fill="#2b2985" />
<rect x="46.35" y="81.54" width="2.02" height="4.07" fill="#2b2985" />
<rect x="51.28" y="81.54" width="2.02" height="4.07" fill="#2b2985" />
<rect x="61.14" y="81.54" width="2.02" height="4.07" fill="#2b2985" />
<rect x="63.61" y="81.54" width="2.02" height="4.07" fill="#2b2985" />
<rect x="66.07" y="81.54" width="2.02" height="4.07" fill="#2b2985" />
<rect x="68.53" y="81.54" width="2.02" height="4.07" fill="#2b2985" />
<rect x="71.00" y="81.54" width="2.02" height="4.07" fill="#2b2985" />
<rect x="48.81" y="81.54" width="2.02" height="4.07" fill="#f0a526" />
<rect x="124.75" y="81.54" width="2.02" height="4.07" fill="#2b2985" />
<rect x="127.21" y="81.54" width="2.02" height="4.07" fill="#2b2985" />
<rect x="129.68" y="81.54" width="2.02" height="4.07" fill="#2b2985" />
<rect x="139.54" y="81.54" width="2.02" height="4.07" fill="#2b2985" />
<rect x="144.47" y="81.54" width="2.02" height="4.07" fill="#2b2985" />
<rect x="146.94" y="81.54" width="2.02" height="4.07" fill="#2b2985" />
<rect x="149.40" y="81.54" width="2.02" height="4.07" fill="#2b2985" />
<rect x="156.79" y="81.54" width="2.02" height="4.07" fill="#2b2985" />
<rect x="159.26" y="81.54" width="2.02" height="4.07" fill="#2b2985" />
<rect x="171.59" y="81.54" width="2.02" height="4.07" fill="#2b2985" />
<rect x="174.05" y="81.54" width="2.02" height="4.07" fill="#2b2985" />
<rect x="176.51" y="81.54" width="2.02" height="4.07" fill="#2b2985" />
<rect x="178.98" y="81.54" width="2.02" height="4.07" fill="#2b2985" />
<rect x="181.44" y="81.54" width="2.02" height="4.07" fill="#2b2985" />
<rect x="183.91" y="81.54" width="2.02" height="4.07" fill="#2b2985" />
<rect x="186.37" y="81.54" width="2.02" height="4.07" fill="#2b2985" />
<rect x="188.84" y="81.54" width="2.02" height="4.07" fill="#2b2985" />
<rect x="191.30" y="81.54" width="2.02" height="4.07" fill="#2b2985" />
<rect x="122.28" y="81.54" width="2.02" height="4.07" fill="#f0a526" />
<rect x="132.14" y="81.54" width="2.02" height="4.07" fill="#f0a526" />
<rect x="134.61" y="81.54" width="2.02" height="4.07" fill="#f0a526" />
<rect x="137.07" y="81.54" width="2.02" height="4.07" fill="#f0a526" />
<rect x="142.00" y="81.54" width="2.02" height="4.07" fill="#f0a526" />
<rect x="151.86" y="81.54" width="2.02" height="4.07" fill="#f0a526" />
<rect x="154.33" y="81.54" width="2.02" height="4.07" fill="#f0a526" />
<rect x="161.72" y="81.54" width="2.02" height="4.07" fill="#f0a526" />
<rect x="44.02" y="87.45" width="1.76" height="1.90" fill="#23804a" />
<rect x="53.88" y="87.45" width="1.76" height="1.90" fill="#23804a" />
<rect x="88.38" y="87.45" width="1.76" height="1.90" fill="#23804a" />
<rect x="90.85" y="87.45" width="1.76" height="1.90" fill="#23804a" />
<rect x="122.41" y="87.45" width="1.76" height="1.90" fill="#23804a" />
<rect x="124.88" y="87.45" width="1.76" height="1.90" fill="#23804a" />
<rect x="127.34" y="87.45" width="1.76" height="1.90" fill="#23804a" />
<rect x="129.81" y="87.45" width="1.76" height="1.90" fill="#23804a" />
<rect x="132.27" y="87.45" width="1.76" height="1.90" fill="#23804a" />
<rect x="134.74" y="87.45" width="1.76" height="1.90" fill="#23804a" />
<rect x="164.32" y="87.45" width="1.76" height="1.90" fill="#23804a" />
<rect x="198.83" y="87.45" width="1.76" height="1.90" fill="#23804a" />
<rect x="201.29" y="87.45" width="1.76" height="1.90" fill="#23804a" />
<rect x="216.08" y="87.45" width="1.76" height="1.90" fill="#23804a" />
<rect x="218.55" y="87.45" width="1.76" height="1.90" fill="#23804a" />
<rect x="223.48" y="87.45" width="1.76" height="1.90" fill="#23804a" />
<rect x="225.94" y="87.45" width="1.76" height="1.90" fill="#23804a" />
<rect x="228.41" y="87.45" width="1.76" height="1.90" fill="#23804a" />
<rect x="230.87" y="87.45" width="1.76" height="1.90" fill="#23804a" />
<rect x="233.34" y="87.45" width="1.76" height="1.90" fill="#23804a" />
<rect x="235.80" y="87.45" width="1.76" height="1.90" fill="#23804a" />
<rect x="238.27" y="87.45" width="1.76" height="1.90" fill="#23804a" />
<rect x="240.73" y="87.45" width="1.76" height="1.90" fill="#23804a" />
<rect x="220.88" y="86.37" width="2.02" height="4.07" fill="#f0a526" />
<rect x="73.47" y="91.20" width="2.02" height="4.07" fill="#2b2985" />
<rect x="95.65" y="91.20" width="2.02" height="4.07" fill="#f0a526" />
<rect x="122.28" y="91.20" width="2.02" height="4.07" fill="#2b2985" />
<rect x="139.54" y="91.20" width="2.02" height="4.07" fill="#2b2985" />
<rect x="164.19" y="91.20" width="2.02" height="4.07" fill="#2b2985" />
<rect x="166.66" y="91.20" width="2.02" height="4.07" fill="#2b2985" />
<rect x="193.77" y="91.20" width="2.02" height="4.07" fill="#2b2985" />
<rect x="196.23" y="91.20" width="2.02" height="4.07" fill="#2b2985" />
<rect x="206.09" y="91.20" width="2.02" height="4.07" fill="#2b2985" />
<rect x="218.42" y="91.20" width="2.02" height="4.07" fill="#2b2985" />
<rect x="245.53" y="91.20" width="2.02" height="4.07" fill="#2b2985" />
<rect x="248.00" y="91.20" width="2.02" height="4.07" fill="#2b2985" />
<rect x="250.46" y="91.20" width="2.02" height="4.07" fill="#2b2985" />
<rect x="124.75" y="91.20" width="2.02" height="4.07" fill="#f0a526" />
<rect x="137.07" y="91.20" width="2.02" height="4.07" fill="#f0a526" />
<rect x="142.00" y="91.20" width="2.02" height="4.07" fill="#f0a526" />
<rect x="220.88" y="91.20" width="2.02" height="4.07" fill="#f0a526" />
<rect x="223.35" y="91.20" width="2.02" height="4.07" fill="#f0a526" />
<rect x="44.02" y="97.12" width="1.76" height="1.90" fill="#23804a" />
<rect x="61.14" y="96.03" width="2.02" height="4.07" fill="#2b2985" />
<rect x="85.79" y="96.03" width="2.02" height="4.07" fill="#2b2985" />
<rect x="98.11" y="96.03" width="2.02" height="4.07" fill="#2b2985" />
<rect x="100.58" y="96.03" width="2.02" height="4.07" fill="#2b2985" />
<rect x="137.07" y="96.03" width="2.02" height="4.07" fill="#f0a526" />
<rect x="169.12" y="96.03" width="2.02" height="4.07" fill="#f0a526" />
<rect x="144.47" y="96.03" width="2.02" height="4.07" fill="#2b2985" />
<rect x="146.94" y="96.03" width="2.02" height="4.07" fill="#2b2985" />
<rect x="149.40" y="96.03" width="2.02" height="4.07" fill="#2b2985" />
<rect x="206.09" y="96.03" width="2.02" height="4.07" fill="#2b2985" />
<rect x="243.07" y="96.03" width="2.02" height="4.07" fill="#2b2985" />
<rect x="245.53" y="96.03" width="2.02" height="4.07" fill="#2b2985" />
<rect x="252.93" y="96.03" width="2.02" height="4.07" fill="#2b2985" />
<rect x="255.39" y="96.03" width="2.02" height="4.07" fill="#2b2985" />
<rect x="257.86" y="96.03" width="2.02" height="4.07" fill="#2b2985" />
<rect x="260.33" y="96.03" width="2.02" height="4.07" fill="#2b2985" />
<rect x="46.35" y="100.86" width="2.02" height="4.07" fill="#2b2985" />
<rect x="63.61" y="100.86" width="2.02" height="4.07" fill="#2b2985" />
<rect x="75.93" y="100.86" width="2.02" height="4.07" fill="#2b2985" />
<rect x="127.21" y="100.86" width="2.02" height="4.07" fill="#2b2985" />
<rect x="144.47" y="100.86" width="2.02" height="4.07" fill="#2b2985" />
<rect x="193.77" y="100.86" width="2.02" height="4.07" fill="#2b2985" />
<rect x="201.16" y="100.86" width="2.02" height="4.07" fill="#2b2985" />
<rect x="208.56" y="100.86" width="2.02" height="4.07" fill="#2b2985" />
<rect x="211.03" y="100.86" width="2.02" height="4.07" fill="#2b2985" />
<rect x="248.00" y="100.86" width="2.02" height="4.07" fill="#2b2985" />
<rect x="262.79" y="100.86" width="2.02" height="4.07" fill="#2b2985" />
<rect x="265.25" y="100.86" width="2.02" height="4.07" fill="#2b2985" />
<rect x="139.54" y="100.86" width="2.02" height="4.07" fill="#f0a526" />
<rect x="151.86" y="100.86" width="2.02" height="4.07" fill="#f0a526" />
<rect x="61.14" y="105.69" width="2.02" height="4.07" fill="#f0a526" />
<rect x="105.51" y="105.69" width="2.02" height="4.07" fill="#f0a526" />
<rect x="66.20" y="106.78" width="1.76" height="1.90" fill="#23804a" />
<rect x="93.31" y="106.78" width="1.76" height="1.90" fill="#23804a" />
<rect x="78.52" y="106.78" width="1.76" height="1.90" fill="#111111" />
<rect x="103.17" y="106.78" width="1.76" height="1.90" fill="#111111" />
<rect x="129.81" y="106.78" width="1.76" height="1.90" fill="#23804a" />
<rect x="137.07" y="105.69" width="2.02" height="4.07" fill="#f0a526" />
<rect x="154.46" y="106.78" width="1.76" height="1.90" fill="#111111" />
<rect x="218.55" y="106.78" width="1.76" height="1.90" fill="#111111" />
<rect x="203.63" y="105.69" width="2.02" height="4.07" fill="#2b2985" />
<rect x="63.74" y="111.61" width="1.76" height="1.90" fill="#111111" />
<rect x="85.79" y="110.52" width="2.02" height="4.07" fill="#2b2985" />
<rect x="98.11" y="110.52" width="2.02" height="4.07" fill="#2b2985" />
<rect x="146.94" y="110.52" width="2.02" height="4.07" fill="#2b2985" />
<rect x="149.40" y="110.52" width="2.02" height="4.07" fill="#2b2985" />
<rect x="243.07" y="110.52" width="2.02" height="4.07" fill="#2b2985" />
<rect x="252.93" y="110.52" width="2.02" height="4.07" fill="#2b2985" />
<rect x="255.39" y="110.52" width="2.02" height="4.07" fill="#2b2985" />
<rect x="257.86" y="110.52" width="2.02" height="4.07" fill="#2b2985" />
<rect x="260.33" y="110.52" width="2.02" height="4.07" fill="#2b2985" />
<rect x="169.12" y="110.52" width="2.02" height="4.07" fill="#f0a526" />
<rect x="63.74" y="116.44" width="1.76" height="1.90" fill="#23804a" />
<rect x="68.66" y="116.44" width="1.76" height="1.90" fill="#23804a" />
<rect x="71.13" y="116.44" width="1.76" height="1.90" fill="#111111" />
<rect x="208.69" y="116.44" width="1.76" height="1.90" fill="#111111" />
<rect x="218.55" y="116.44" width="1.76" height="1.90" fill="#111111" />
<rect x="270.31" y="116.44" width="1.76" height="1.90" fill="#111111" />
<rect x="156.92" y="116.44" width="1.76" height="1.90" fill="#23804a" />
<rect x="171.72" y="116.44" width="1.76" height="1.90" fill="#23804a" />
<rect x="228.41" y="116.44" width="1.76" height="1.90" fill="#23804a" />
<rect x="243.20" y="116.44" width="1.76" height="1.90" fill="#23804a" />
<rect x="253.06" y="116.44" width="1.76" height="1.90" fill="#23804a" />
<rect x="267.85" y="116.44" width="1.76" height="1.90" fill="#23804a" />
<rect x="66.20" y="121.27" width="1.76" height="1.90" fill="#23804a" />
<rect x="68.66" y="121.27" width="1.76" height="1.90" fill="#23804a" />
<rect x="73.59" y="121.27" width="1.76" height="1.90" fill="#23804a" />
<rect x="80.99" y="121.27" width="1.76" height="1.90" fill="#23804a" />
<rect x="88.38" y="121.27" width="1.76" height="1.90" fill="#111111" />
<rect x="119.95" y="121.27" width="1.76" height="1.90" fill="#111111" />
<rect x="127.21" y="120.18" width="2.02" height="4.07" fill="#f0a526" />
<rect x="272.65" y="120.18" width="2.02" height="4.07" fill="#f0a526" />
<rect x="147.06" y="121.27" width="1.76" height="1.90" fill="#23804a" />
<rect x="208.69" y="121.27" width="1.76" height="1.90" fill="#23804a" />
<rect x="230.87" y="121.27" width="1.76" height="1.90" fill="#23804a" />
<rect x="267.85" y="121.27" width="1.76" height="1.90" fill="#23804a" />
<rect x="43.89" y="125.01" width="2.02" height="4.07" fill="#2b2985" />
<rect x="56.34" y="126.09" width="1.76" height="1.90" fill="#111111" />
<rect x="108.10" y="126.09" width="1.76" height="1.90" fill="#111111" />
<rect x="63.74" y="126.09" width="1.76" height="1.90" fill="#23804a" />
<rect x="127.21" y="125.01" width="2.02" height="4.07" fill="#f0a526" />
<rect x="137.20" y="126.09" width="1.76" height="1.90" fill="#23804a" />
<rect x="176.64" y="126.09" width="1.76" height="1.90" fill="#23804a" />
<rect x="275.25" y="126.09" width="1.76" height="1.90" fill="#23804a" />
<rect x="159.26" y="125.01" width="2.02" height="4.07" fill="#2b2985" />
<rect x="174.05" y="125.01" width="2.02" height="4.07" fill="#2b2985" />
<rect x="66.20" y="130.93" width="1.76" height="1.90" fill="#23804a" />
<rect x="68.66" y="130.93" width="1.76" height="1.90" fill="#23804a" />
<rect x="90.85" y="130.93" width="1.76" height="1.90" fill="#23804a" />
<rect x="122.41" y="130.93" width="1.76" height="1.90" fill="#23804a" />
<rect x="144.60" y="130.93" width="1.76" height="1.90" fill="#23804a" />
<rect x="154.46" y="130.93" width="1.76" height="1.90" fill="#23804a" />
<rect x="174.18" y="130.93" width="1.76" height="1.90" fill="#23804a" />
<rect x="176.64" y="130.93" width="1.76" height="1.90" fill="#23804a" />
<rect x="233.34" y="130.93" width="1.76" height="1.90" fill="#23804a" />
<rect x="277.71" y="130.93" width="1.76" height="1.90" fill="#23804a" />
<rect x="198.83" y="130.93" width="1.76" height="1.90" fill="#7e3494" />
<rect x="63.74" y="135.75" width="1.76" height="1.90" fill="#23804a" />
<rect x="127.21" y="134.67" width="2.02" height="4.07" fill="#f0a526" />
<rect x="248.00" y="134.67" width="2.02" height="4.07" fill="#f0a526" />
<rect x="144.47" y="134.67" width="2.02" height="4.07" fill="#2b2985" />
<rect x="174.05" y="134.67" width="2.02" height="4.07" fill="#2b2985" />
<rect x="198.70" y="134.67" width="2.02" height="4.07" fill="#2b2985" />
<rect x="255.39" y="134.67" width="2.02" height="4.07" fill="#2b2985" />
<rect x="280.05" y="134.67" width="2.02" height="4.07" fill="#2b2985" />
<rect x="228.41" y="135.75" width="1.76" height="1.90" fill="#23804a" />
<rect x="46.48" y="140.59" width="1.76" height="1.90" fill="#23804a" />
<rect x="95.78" y="140.59" width="1.76" height="1.90" fill="#111111" />
<rect x="127.21" y="139.50" width="2.02" height="4.07" fill="#f0a526" />
<rect x="144.47" y="139.50" width="2.02" height="4.07" fill="#2b2985" />
<rect x="174.05" y="139.50" width="2.02" height="4.07" fill="#2b2985" />
<rect x="198.70" y="139.50" width="2.02" height="4.07" fill="#2b2985" />
<rect x="161.85" y="140.59" width="1.76" height="1.90" fill="#23804a" />
<rect x="218.55" y="140.59" width="1.76" height="1.90" fill="#23804a" />
<rect x="282.64" y="140.59" width="1.76" height="1.90" fill="#23804a" />
<rect x="48.95" y="145.41" width="1.76" height="1.90" fill="#23804a" />
<rect x="53.88" y="145.41" width="1.76" height="1.90" fill="#23804a" />
<rect x="103.17" y="145.41" width="1.76" height="1.90" fill="#23804a" />
<rect x="124.88" y="145.41" width="1.76" height="1.90" fill="#23804a" />
<rect x="179.11" y="145.41" width="1.76" height="1.90" fill="#23804a" />
<rect x="198.83" y="145.41" width="1.76" height="1.90" fill="#23804a" />
<rect x="235.80" y="145.41" width="1.76" height="1.90" fill="#23804a" />
<rect x="250.59" y="145.41" width="1.76" height="1.90" fill="#23804a" />
<rect x="285.11" y="145.41" width="1.76" height="1.90" fill="#23804a" />
<rect x="66.20" y="150.25" width="1.76" height="1.90" fill="#23804a" />
<rect x="80.99" y="150.25" width="1.76" height="1.90" fill="#23804a" />
<rect x="127.21" y="149.16" width="2.02" height="4.07" fill="#f0a526" />
<rect x="154.46" y="150.25" width="1.76" height="1.90" fill="#23804a" />
<rect x="181.57" y="150.25" width="1.76" height="1.90" fill="#23804a" />
<rect x="213.62" y="150.25" width="1.76" height="1.90" fill="#23804a" />
<rect x="216.08" y="150.25" width="1.76" height="1.90" fill="#23804a" />
<rect x="238.27" y="150.25" width="1.76" height="1.90" fill="#23804a" />
<rect x="287.57" y="150.25" width="1.76" height="1.90" fill="#23804a" />
<rect x="68.66" y="155.08" width="1.76" height="1.90" fill="#23804a" />
<rect x="73.59" y="155.08" width="1.76" height="1.90" fill="#23804a" />
<rect x="110.44" y="153.99" width="2.02" height="4.07" fill="#2b2985" />
<rect x="122.41" y="155.08" width="1.76" height="1.90" fill="#111111" />
<rect x="218.55" y="155.08" width="1.76" height="1.90" fill="#111111" />
<rect x="290.03" y="155.08" width="1.76" height="1.90" fill="#111111" />
<rect x="184.04" y="155.08" width="1.76" height="1.90" fill="#7e3494" />
<rect x="221.01" y="155.08" width="1.76" height="1.90" fill="#23804a" />
<rect x="245.53" y="153.99" width="2.02" height="4.07" fill="#f0a526" />
<rect x="63.61" y="158.82" width="2.02" height="4.07" fill="#2b2985" />
<rect x="68.66" y="159.91" width="1.76" height="1.90" fill="#23804a" />
<rect x="124.75" y="158.82" width="2.02" height="4.07" fill="#f0a526" />
<rect x="127.21" y="158.82" width="2.02" height="4.07" fill="#f0a526" />
<rect x="223.35" y="158.82" width="2.02" height="4.07" fill="#f0a526" />
<rect x="225.81" y="158.82" width="2.02" height="4.07" fill="#f0a526" />
<rect x="245.53" y="158.82" width="2.02" height="4.07" fill="#f0a526" />
<rect x="149.40" y="158.82" width="2.02" height="4.07" fill="#2b2985" />
<rect x="230.87" y="159.91" width="1.76" height="1.90" fill="#111111" />
<rect x="41.55" y="164.73" width="1.76" height="1.90" fill="#23804a" />
<rect x="73.59" y="164.73" width="1.76" height="1.90" fill="#23804a" />
<rect x="105.64" y="164.73" width="1.76" height="1.90" fill="#23804a" />
<rect x="139.67" y="164.73" width="1.76" height="1.90" fill="#23804a" />
<rect x="164.32" y="164.73" width="1.76" height="1.90" fill="#23804a" />
<rect x="206.22" y="164.73" width="1.76" height="1.90" fill="#23804a" />
<rect x="292.50" y="164.73" width="1.76" height="1.90" fill="#23804a" />
<rect x="144.47" y="163.65" width="2.02" height="4.07" fill="#e3281c" />
<rect x="80.99" y="169.56" width="1.76" height="1.90" fill="#23804a" />
<rect x="90.85" y="169.56" width="1.76" height="1.90" fill="#23804a" />
<rect x="127.21" y="168.48" width="2.02" height="4.07" fill="#f0a526" />
<rect x="171.72" y="169.56" width="1.76" height="1.90" fill="#23804a" />
<rect x="228.41" y="169.56" width="1.76" height="1.90" fill="#23804a" />
<rect x="255.52" y="169.56" width="1.76" height="1.90" fill="#23804a" />
<rect x="250.59" y="169.56" width="1.76" height="1.90" fill="#111111" />
<rect x="294.97" y="169.56" width="1.76" height="1.90" fill="#111111" />
<rect x="95.65" y="173.31" width="2.02" height="4.07" fill="#f0a526" />
<rect x="122.28" y="173.31" width="2.02" height="4.07" fill="#f0a526" />
<rect x="127.21" y="173.31" width="2.02" height="4.07" fill="#f0a526" />
<rect x="137.07" y="173.31" width="2.02" height="4.07" fill="#f0a526" />
<rect x="151.86" y="173.31" width="2.02" height="4.07" fill="#f0a526" />
<rect x="174.18" y="174.40" width="1.76" height="1.90" fill="#23804a" />
<rect x="68.66" y="179.22" width="1.76" height="1.90" fill="#23804a" />
<rect x="105.64" y="179.22" width="1.76" height="1.90" fill="#23804a" />
<rect x="206.22" y="179.22" width="1.76" height="1.90" fill="#23804a" />
<rect x="218.55" y="179.22" width="1.76" height="1.90" fill="#23804a" />
<rect x="228.41" y="179.22" width="1.76" height="1.90" fill="#23804a" />
<rect x="270.31" y="179.22" width="1.76" height="1.90" fill="#23804a" />
<rect x="46.48" y="184.06" width="1.76" height="1.90" fill="#23804a" />
<rect x="113.03" y="184.06" width="1.76" height="1.90" fill="#23804a" />
<rect x="127.21" y="182.97" width="2.02" height="4.07" fill="#f0a526" />
<rect x="139.54" y="182.97" width="2.02" height="4.07" fill="#f0a526" />
<rect x="144.47" y="182.97" width="2.02" height="4.07" fill="#2b2985" />
<rect x="201.16" y="182.97" width="2.02" height="4.07" fill="#2b2985" />
<rect x="48.81" y="187.80" width="2.02" height="4.07" fill="#f0a526" />
<rect x="63.74" y="188.89" width="1.76" height="1.90" fill="#111111" />
<rect x="119.82" y="187.80" width="2.02" height="4.07" fill="#f0a526" />
<rect x="220.88" y="187.80" width="2.02" height="4.07" fill="#f0a526" />
<rect x="272.65" y="187.80" width="2.02" height="4.07" fill="#f0a526" />
<rect x="134.74" y="188.89" width="1.76" height="1.90" fill="#7e3494" />
<rect x="46.48" y="193.72" width="1.76" height="1.90" fill="#23804a" />
<rect x="63.74" y="193.72" width="1.76" height="1.90" fill="#23804a" />
<rect x="88.38" y="193.72" width="1.76" height="1.90" fill="#23804a" />
<rect x="108.10" y="193.72" width="1.76" height="1.90" fill="#23804a" />
<rect x="171.72" y="193.72" width="1.76" height="1.90" fill="#23804a" />
<rect x="250.59" y="193.72" width="1.76" height="1.90" fill="#23804a" />
<rect x="66.20" y="198.54" width="1.76" height="1.90" fill="#23804a" />
<rect x="88.38" y="198.54" width="1.76" height="1.90" fill="#23804a" />
<rect x="98.24" y="198.54" width="1.76" height="1.90" fill="#23804a" />
<rect x="127.21" y="197.46" width="2.02" height="4.07" fill="#f0a526" />
<rect x="169.12" y="197.46" width="2.02" height="4.07" fill="#f0a526" />
<rect x="252.93" y="197.46" width="2.02" height="4.07" fill="#2b2985" />
<rect x="103.17" y="203.38" width="1.76" height="1.90" fill="#111111" />
<rect x="119.82" y="202.29" width="2.02" height="4.07" fill="#2b2985" />
<rect x="208.56" y="202.29" width="2.02" height="4.07" fill="#2b2985" />
<rect x="129.68" y="202.29" width="2.02" height="4.07" fill="#f0a526" />
<rect x="134.61" y="202.29" width="2.02" height="4.07" fill="#f0a526" />
<rect x="151.86" y="202.29" width="2.02" height="4.07" fill="#f0a526" />
<rect x="43.89" y="207.12" width="2.02" height="4.07" fill="#2b2985" />
<rect x="127.21" y="207.12" width="2.02" height="4.07" fill="#f0a526" />
<rect x="144.47" y="207.12" width="2.02" height="4.07" fill="#2b2985" />
<rect x="159.26" y="207.12" width="2.02" height="4.07" fill="#2b2985" />
<rect x="174.05" y="207.12" width="2.02" height="4.07" fill="#2b2985" />
<rect x="201.16" y="207.12" width="2.02" height="4.07" fill="#2b2985" />
<rect x="46.48" y="213.03" width="1.76" height="1.90" fill="#23804a" />
<rect x="71.00" y="211.95" width="2.02" height="4.07" fill="#2b2985" />
<rect x="169.12" y="211.95" width="2.02" height="4.07" fill="#f0a526" />
<rect x="220.88" y="211.95" width="2.02" height="4.07" fill="#f0a526" />
<rect x="176.51" y="211.95" width="2.02" height="4.07" fill="#2b2985" />
<text x="355.1" y="65.7" font-size="5.8" text-anchor="middle" font-weight="normal" font-style="normal" fill="#333" stroke="#333" stroke-width="0.08" >0</text>
<text x="365.7" y="65.7" font-size="5.8" text-anchor="middle" font-weight="normal" font-style="normal" fill="#333" stroke="#333" stroke-width="0.08" >20</text>
<text x="376.3" y="65.7" font-size="5.8" text-anchor="middle" font-weight="normal" font-style="normal" fill="#333" stroke="#333" stroke-width="0.08" >40</text>
<rect x="354.20" y="69.70" width="27.50" height="0.90" fill="#222" />
<rect x="354.85" y="69.00" width="0.50" height="1.00" fill="#222" />
<rect x="355.91" y="69.30" width="0.50" height="1.00" fill="#222" />
<rect x="356.97" y="69.30" width="0.50" height="1.00" fill="#222" />
<rect x="358.03" y="69.30" width="0.50" height="1.00" fill="#222" />
<rect x="359.09" y="69.30" width="0.50" height="1.00" fill="#222" />
<rect x="360.15" y="69.00" width="0.50" height="1.00" fill="#222" />
<rect x="361.21" y="69.30" width="0.50" height="1.00" fill="#222" />
<rect x="362.27" y="69.30" width="0.50" height="1.00" fill="#222" />
<rect x="363.33" y="69.30" width="0.50" height="1.00" fill="#222" />
<rect x="364.39" y="69.30" width="0.50" height="1.00" fill="#222" />
<rect x="365.45" y="69.00" width="0.50" height="1.00" fill="#222" />
<rect x="366.51" y="69.30" width="0.50" height="1.00" fill="#222" />
<rect x="367.57" y="69.30" width="0.50" height="1.00" fill="#222" />
<rect x="368.63" y="69.30" width="0.50" height="1.00" fill="#222" />
<rect x="369.69" y="69.30" width="0.50" height="1.00" fill="#222" />
<rect x="370.75" y="69.00" width="0.50" height="1.00" fill="#222" />
<rect x="371.81" y="69.30" width="0.50" height="1.00" fill="#222" />
<rect x="372.87" y="69.30" width="0.50" height="1.00" fill="#222" />
<rect x="373.93" y="69.30" width="0.50" height="1.00" fill="#222" />
<rect x="374.99" y="69.30" width="0.50" height="1.00" fill="#222" />
<rect x="376.05" y="69.00" width="0.50" height="1.00" fill="#222" />
<rect x="377.11" y="69.30" width="0.50" height="1.00" fill="#222" />
<rect x="378.17" y="69.30" width="0.50" height="1.00" fill="#222" />
<rect x="379.23" y="69.30" width="0.50" height="1.00" fill="#222" />
<rect x="380.29" y="69.30" width="0.50" height="1.00" fill="#222" />
<rect x="381.35" y="69.00" width="0.50" height="1.00" fill="#222" />
<rect x="355.10" y="72.42" width="0.53" height="3.00" fill="#2b2985" />
<rect x="355.63" y="72.42" width="21.73" height="3.00" fill="#2b2985" />
<rect x="377.36" y="72.42" width="2.65" height="3.00" fill="#f0a526" />
<rect x="380.01" y="72.42" width="0.53" height="3.00" fill="#111111" />
<rect x="355.10" y="77.25" width="1.06" height="3.00" fill="#e3281c" />
<rect x="356.16" y="77.25" width="11.13" height="3.00" fill="#2b2985" />
<rect x="367.29" y="77.25" width="0.53" height="3.00" fill="#2b2985" />
<rect x="367.82" y="77.25" width="6.36" height="3.00" fill="#f0a526" />
<rect x="374.18" y="77.25" width="0.53" height="3.00" fill="#23804a" />
<rect x="355.10" y="82.08" width="14.31" height="3.00" fill="#2b2985" />
<rect x="369.41" y="82.08" width="4.77" height="3.00" fill="#f0a526" />
<rect x="355.10" y="86.91" width="0.53" height="3.00" fill="#f0a526" />
<rect x="355.63" y="86.91" width="12.19" height="3.00" fill="#23804a" />
<rect x="355.10" y="91.73" width="6.36" height="3.00" fill="#2b2985" />
<rect x="361.46" y="91.73" width="3.18" height="3.00" fill="#f0a526" />
<rect x="355.10" y="96.57" width="7.42" height="3.00" fill="#2b2985" />
<rect x="362.52" y="96.57" width="1.06" height="3.00" fill="#f0a526" />
<rect x="363.58" y="96.57" width="0.53" height="3.00" fill="#23804a" />
<rect x="355.10" y="101.40" width="6.36" height="3.00" fill="#2b2985" />
<rect x="361.46" y="101.40" width="1.06" height="3.00" fill="#f0a526" />
<rect x="355.10" y="106.23" width="0.53" height="3.00" fill="#2b2985" />
<rect x="355.63" y="106.23" width="1.59" height="3.00" fill="#f0a526" />
<rect x="357.22" y="106.23" width="2.12" height="3.00" fill="#111111" />
<rect x="359.34" y="106.23" width="1.59" height="3.00" fill="#23804a" />
<rect x="355.10" y="111.06" width="4.77" height="3.00" fill="#2b2985" />
<rect x="359.87" y="111.06" width="0.53" height="3.00" fill="#f0a526" />
<rect x="360.40" y="111.06" width="0.53" height="3.00" fill="#111111" />
<rect x="355.10" y="115.89" width="2.12" height="3.00" fill="#111111" />
<rect x="357.22" y="115.89" width="4.24" height="3.00" fill="#23804a" />
<rect x="355.10" y="120.72" width="1.06" height="3.00" fill="#f0a526" />
<rect x="356.16" y="120.72" width="1.06" height="3.00" fill="#111111" />
<rect x="357.22" y="120.72" width="4.24" height="3.00" fill="#23804a" />
<rect x="355.10" y="125.55" width="1.59" height="3.00" fill="#2b2985" />
<rect x="356.69" y="125.55" width="0.53" height="3.00" fill="#f0a526" />
<rect x="357.22" y="125.55" width="1.06" height="3.00" fill="#111111" />
<rect x="358.28" y="125.55" width="2.12" height="3.00" fill="#23804a" />
<rect x="355.10" y="130.38" width="0.53" height="3.00" fill="#7e3494" />
<rect x="355.63" y="130.38" width="5.30" height="3.00" fill="#23804a" />
<rect x="355.10" y="135.20" width="2.65" height="3.00" fill="#2b2985" />
<rect x="357.75" y="135.20" width="1.06" height="3.00" fill="#f0a526" />
<rect x="358.81" y="135.20" width="1.06" height="3.00" fill="#23804a" />
<rect x="355.10" y="140.03" width="1.59" height="3.00" fill="#2b2985" />
<rect x="356.69" y="140.03" width="0.53" height="3.00" fill="#f0a526" />
<rect x="357.22" y="140.03" width="0.53" height="3.00" fill="#111111" />
<rect x="357.75" y="140.03" width="2.12" height="3.00" fill="#23804a" />
<rect x="355.10" y="144.86" width="4.77" height="3.00" fill="#23804a" />
<rect x="355.10" y="149.69" width="0.53" height="3.00" fill="#f0a526" />
<rect x="355.63" y="149.69" width="4.24" height="3.00" fill="#23804a" />
<rect x="355.10" y="154.53" width="0.53" height="3.00" fill="#2b2985" />
<rect x="355.63" y="154.53" width="0.53" height="3.00" fill="#f0a526" />
<rect x="356.16" y="154.53" width="1.59" height="3.00" fill="#111111" />
<rect x="357.75" y="154.53" width="0.53" height="3.00" fill="#7e3494" />
<rect x="358.28" y="154.53" width="1.59" height="3.00" fill="#23804a" />
<rect x="355.10" y="159.35" width="1.06" height="3.00" fill="#2b2985" />
<rect x="356.16" y="159.35" width="2.65" height="3.00" fill="#f0a526" />
<rect x="358.81" y="159.35" width="0.53" height="3.00" fill="#111111" />
<rect x="359.34" y="159.35" width="0.53" height="3.00" fill="#23804a" />
<rect x="355.10" y="164.18" width="0.53" height="3.00" fill="#e3281c" />
<rect x="355.63" y="164.18" width="3.71" height="3.00" fill="#23804a" />
<rect x="355.10" y="169.01" width="0.53" height="3.00" fill="#f0a526" />
<rect x="355.63" y="169.01" width="1.06" height="3.00" fill="#111111" />
<rect x="356.69" y="169.01" width="2.65" height="3.00" fill="#23804a" />
<rect x="355.10" y="173.84" width="2.65" height="3.00" fill="#f0a526" />
<rect x="357.75" y="173.84" width="0.53" height="3.00" fill="#23804a" />
<rect x="355.10" y="178.67" width="3.18" height="3.00" fill="#23804a" />
<rect x="355.10" y="183.50" width="1.06" height="3.00" fill="#2b2985" />
<rect x="356.16" y="183.50" width="1.06" height="3.00" fill="#f0a526" />
<rect x="357.22" y="183.50" width="1.06" height="3.00" fill="#23804a" />
<rect x="355.10" y="188.34" width="2.12" height="3.00" fill="#f0a526" />
<rect x="357.22" y="188.34" width="0.53" height="3.00" fill="#111111" />
<rect x="357.75" y="188.34" width="0.53" height="3.00" fill="#7e3494" />
<rect x="355.10" y="193.16" width="3.18" height="3.00" fill="#23804a" />
<rect x="355.10" y="197.99" width="0.53" height="3.00" fill="#2b2985" />
<rect x="355.63" y="197.99" width="1.06" height="3.00" fill="#f0a526" />
<rect x="356.69" y="197.99" width="1.59" height="3.00" fill="#23804a" />
<rect x="355.10" y="202.82" width="1.06" height="3.00" fill="#2b2985" />
<rect x="356.16" y="202.82" width="1.59" height="3.00" fill="#f0a526" />
<rect x="357.75" y="202.82" width="0.53" height="3.00" fill="#111111" />
<rect x="355.10" y="207.66" width="2.65" height="3.00" fill="#2b2985" />
<rect x="357.75" y="207.66" width="0.53" height="3.00" fill="#f0a526" />
<rect x="355.10" y="212.48" width="1.06" height="3.00" fill="#2b2985" />
<rect x="356.16" y="212.48" width="1.06" height="3.00" fill="#f0a526" />
<rect x="357.22" y="212.48" width="0.53" height="3.00" fill="#23804a" />
<text x="387.5" y="29.8" font-size="6.25" text-anchor="start" font-weight="normal" font-style="normal" fill="#333" stroke="#333" stroke-width="0.08" textLength="10.59" lengthAdjust="spacingAndGlyphs" >Age</text>
<rect x="387.50" y="34.40" width="5.60" height="5.00" fill="#9e1b2a" />
<text x="396.2" y="38.9" font-size="6.04" text-anchor="start" font-weight="normal" font-style="normal" fill="#333" stroke="#333" stroke-width="0.08" textLength="9.75" lengthAdjust="spacingAndGlyphs" >&gt;10</text>
<rect x="387.50" y="41.20" width="5.60" height="5.00" fill="#27a5dc" />
<text x="396.2" y="45.7" font-size="6.04" text-anchor="start" font-weight="normal" font-style="normal" fill="#333" stroke="#333" stroke-width="0.08" textLength="11.51" lengthAdjust="spacingAndGlyphs" >1-10</text>
<text x="387.5" y="58.2" font-size="6.25" text-anchor="start" font-weight="normal" font-style="normal" fill="#333" stroke="#333" stroke-width="0.08" textLength="13.88" lengthAdjust="spacingAndGlyphs" >WBC</text>
<rect x="387.50" y="62.80" width="5.60" height="5.00" fill="#fce4d8" />
<text x="396.2" y="67.3" font-size="6.04" text-anchor="start" font-weight="normal" font-style="normal" fill="#333" stroke="#333" stroke-width="0.08" textLength="19.35" lengthAdjust="spacingAndGlyphs" >&lt;50000</text>
<rect x="387.50" y="69.50" width="5.60" height="5.00" fill="#1c9a40" />
<text x="396.2" y="74.0" font-size="6.04" text-anchor="start" font-weight="normal" font-style="normal" fill="#333" stroke="#333" stroke-width="0.08" textLength="19.35" lengthAdjust="spacingAndGlyphs" >&gt;50000</text>
<text x="387.5" y="86.7" font-size="6.25" text-anchor="start" font-weight="normal" font-style="normal" fill="#333" stroke="#333" stroke-width="0.08" textLength="21.83" lengthAdjust="spacingAndGlyphs" >Relapse</text>
<rect x="387.50" y="91.10" width="5.60" height="5.00" fill="#1f74b8" />
<text x="396.2" y="95.6" font-size="6.04" text-anchor="start" font-weight="normal" font-style="normal" fill="#333" stroke="#333" stroke-width="0.08" textLength="7.35" lengthAdjust="spacingAndGlyphs" >No</text>
<rect x="387.50" y="98.50" width="5.60" height="5.00" fill="#f3e61a" />
<text x="396.2" y="103.0" font-size="6.04" text-anchor="start" font-weight="normal" font-style="normal" fill="#333" stroke="#333" stroke-width="0.08" textLength="9.38" lengthAdjust="spacingAndGlyphs" >Yes</text>
<text x="387.5" y="114.7" font-size="6.25" text-anchor="start" font-weight="normal" font-style="normal" fill="#333" stroke="#333" stroke-width="0.08" textLength="21.83" lengthAdjust="spacingAndGlyphs" >Subtype</text>
<rect x="387.50" y="119.10" width="5.60" height="5.00" fill="#e03c1e" />
<text x="396.2" y="123.6" font-size="6.04" text-anchor="start" font-weight="normal" font-style="normal" fill="#333" stroke="#333" stroke-width="0.08" textLength="34.84" lengthAdjust="spacingAndGlyphs" >Hyperdiploidy</text>
<rect x="387.50" y="125.80" width="5.60" height="5.00" fill="#6a2c8c" />
<text x="396.2" y="130.29999999999998" font-size="6.04" text-anchor="start" font-weight="normal" font-style="normal" fill="#333" stroke="#333" stroke-width="0.08" textLength="32.27" lengthAdjust="spacingAndGlyphs" >TCF3::PBX1</text>
<rect x="387.50" y="132.50" width="5.60" height="5.00" fill="#f6ea14" />
<text x="396.2" y="137.0" font-size="6.04" text-anchor="start" font-weight="normal" font-style="normal" fill="#333" stroke="#333" stroke-width="0.08" textLength="37.07" lengthAdjust="spacingAndGlyphs" >ETV6::RUNX1</text>
<rect x="387.50" y="139.20" width="5.60" height="5.00" fill="#8cc03c" />
<text x="396.2" y="143.7" font-size="6.04" text-anchor="start" font-weight="normal" font-style="normal" fill="#333" stroke="#333" stroke-width="0.08" textLength="29.4" lengthAdjust="spacingAndGlyphs" >BCR::ABL1</text>
<rect x="387.50" y="145.90" width="5.60" height="5.00" fill="#f39020" />
<text x="396.2" y="150.4" font-size="6.04" text-anchor="start" font-weight="normal" font-style="normal" fill="#333" stroke="#333" stroke-width="0.08" textLength="39.95" lengthAdjust="spacingAndGlyphs" >BCR::ABL1-like</text>
<rect x="387.50" y="152.60" width="5.60" height="5.00" fill="#1a9a3c" />
<text x="396.2" y="157.1" font-size="6.04" text-anchor="start" font-weight="normal" font-style="normal" fill="#333" stroke="#333" stroke-width="0.08" textLength="20.13" lengthAdjust="spacingAndGlyphs" >iAMP21</text>
<rect x="387.50" y="159.30" width="5.60" height="5.00" fill="#2c2780" />
<text x="396.2" y="163.8" font-size="6.04" text-anchor="start" font-weight="normal" font-style="normal" fill="#333" stroke="#333" stroke-width="0.08" textLength="24.6" lengthAdjust="spacingAndGlyphs" >ZNF384-r</text>
<rect x="387.50" y="166.00" width="5.60" height="5.00" fill="#111111" />
<text x="396.2" y="170.5" font-size="6.04" text-anchor="start" font-weight="normal" font-style="normal" fill="#333" stroke="#333" stroke-width="0.08" textLength="23.32" lengthAdjust="spacingAndGlyphs" >MEF2D-r</text>
<rect x="387.50" y="172.70" width="5.60" height="5.00" fill="#0e4a48" />
<text x="396.2" y="177.2" font-size="6.04" text-anchor="start" font-weight="normal" font-style="normal" fill="#333" stroke="#333" stroke-width="0.08" textLength="22.04" lengthAdjust="spacingAndGlyphs" >CRLF2-r</text>
<rect x="387.50" y="179.40" width="5.60" height="5.00" fill="#e0267a" />
<text x="396.2" y="183.9" font-size="6.04" text-anchor="start" font-weight="normal" font-style="normal" fill="#333" stroke="#333" stroke-width="0.08" textLength="14.05" lengthAdjust="spacingAndGlyphs" >IGH-r</text>
<rect x="387.50" y="186.10" width="5.60" height="5.00" fill="#6cc4b4" />
<text x="396.2" y="190.6" font-size="6.04" text-anchor="start" font-weight="normal" font-style="normal" fill="#333" stroke="#333" stroke-width="0.08" textLength="23.0" lengthAdjust="spacingAndGlyphs" >KMT2A-r</text>
<rect x="387.50" y="192.80" width="5.60" height="5.00" fill="#70c080" />
<text x="396.2" y="197.3" font-size="6.04" text-anchor="start" font-weight="normal" font-style="normal" fill="#333" stroke="#333" stroke-width="0.08" textLength="47.61" lengthAdjust="spacingAndGlyphs" >ETV6::RUNX1-like</text>
<rect x="387.50" y="199.50" width="5.60" height="5.00" fill="#a0381c" />
<text x="396.2" y="204.0" font-size="6.04" text-anchor="start" font-weight="normal" font-style="normal" fill="#333" stroke="#333" stroke-width="0.08" textLength="18.11" lengthAdjust="spacingAndGlyphs" >PAX5-r</text>
<rect x="387.50" y="206.20" width="5.60" height="5.00" fill="#ffffff" />
<text x="396.2" y="210.7" font-size="6.04" text-anchor="start" font-weight="normal" font-style="normal" fill="#333" stroke="#333" stroke-width="0.08" textLength="28.43" lengthAdjust="spacingAndGlyphs" >TCF3::HLF</text>
<rect x="387.50" y="212.90" width="5.60" height="5.00" fill="#c8c8c8" />
<text x="396.2" y="217.39999999999998" font-size="6.04" text-anchor="start" font-weight="normal" font-style="normal" fill="#333" stroke="#333" stroke-width="0.08" textLength="17.26" lengthAdjust="spacingAndGlyphs" >Others</text>
<text x="447.8" y="30.099999999999998" font-size="6.25" text-anchor="start" font-weight="normal" font-style="normal" fill="#333" stroke="#333" stroke-width="0.08" textLength="27.12" lengthAdjust="spacingAndGlyphs" >IKZF1plus</text>
<rect x="447.80" y="34.50" width="5.60" height="5.00" fill="#ececec" />
<text x="456.5" y="39.0" font-size="6.04" text-anchor="start" font-weight="normal" font-style="normal" fill="#333" stroke="#333" stroke-width="0.08" textLength="7.35" lengthAdjust="spacingAndGlyphs" >No</text>
<rect x="447.80" y="41.35" width="5.60" height="5.00" fill="#0a0a0a" />
<text x="456.5" y="45.85" font-size="6.04" text-anchor="start" font-weight="normal" font-style="normal" fill="#333" stroke="#333" stroke-width="0.08" textLength="9.38" lengthAdjust="spacingAndGlyphs" >Yes</text>
<text x="447.8" y="58.0" font-size="6.25" text-anchor="start" font-weight="normal" font-style="normal" fill="#333" stroke="#333" stroke-width="0.08" textLength="37.69" lengthAdjust="spacingAndGlyphs" >miRNA cluster</text>
<rect x="447.80" y="62.50" width="5.60" height="5.00" fill="#e8603c" />
<text x="456.5" y="67.0" font-size="6.04" text-anchor="start" font-weight="normal" font-style="normal" fill="#333" stroke="#333" stroke-width="0.08" textLength="12.14" lengthAdjust="spacingAndGlyphs" >MLC</text>
<rect x="447.80" y="69.40" width="5.60" height="5.00" fill="#c4dcf2" />
<text x="456.5" y="73.9" font-size="6.04" text-anchor="start" font-weight="normal" font-style="normal" fill="#333" stroke="#333" stroke-width="0.08" textLength="24.29" lengthAdjust="spacingAndGlyphs" >Non MLC</text>
<text x="447.8" y="86.4" font-size="6.25" text-anchor="start" font-weight="normal" font-style="normal" fill="#333" stroke="#333" stroke-width="0.08" textLength="28.11" lengthAdjust="spacingAndGlyphs" >Alterations</text>
<rect x="447.80" y="90.90" width="5.60" height="5.00" fill="#e3281c" />
<text x="456.5" y="95.4" font-size="6.04" text-anchor="start" font-weight="normal" font-style="normal" fill="#333" stroke="#333" stroke-width="0.08" textLength="32.6" lengthAdjust="spacingAndGlyphs" >Amplification</text>
<rect x="447.80" y="96.82" width="5.60" height="5.00" fill="#2b2985" />
<text x="456.5" y="101.32000000000001" font-size="6.04" text-anchor="start" font-weight="normal" font-style="normal" fill="#333" stroke="#333" stroke-width="0.08" textLength="55.3" lengthAdjust="spacingAndGlyphs" >Homozygous deletion</text>
<rect x="447.80" y="102.74" width="5.60" height="5.00" fill="#f0a526" />
<text x="456.5" y="107.24000000000001" font-size="6.04" text-anchor="start" font-weight="normal" font-style="normal" fill="#333" stroke="#333" stroke-width="0.08" textLength="57.22" lengthAdjust="spacingAndGlyphs" >Heterozygous deletion</text>
<rect x="447.80" y="110.06" width="5.60" height="2.20" fill="#111111" />
<text x="456.5" y="113.16" font-size="6.04" text-anchor="start" font-weight="normal" font-style="normal" fill="#333" stroke="#333" stroke-width="0.08" textLength="49.54" lengthAdjust="spacingAndGlyphs" >Nonsense mutation</text>
<rect x="447.80" y="115.98" width="5.60" height="2.20" fill="#7e3494" />
<text x="456.5" y="119.08000000000001" font-size="6.04" text-anchor="start" font-weight="normal" font-style="normal" fill="#333" stroke="#333" stroke-width="0.08" textLength="26.21" lengthAdjust="spacingAndGlyphs" >Splice site</text>
<rect x="447.80" y="121.90" width="5.60" height="2.20" fill="#23804a" />
<text x="456.5" y="125.0" font-size="6.04" text-anchor="start" font-weight="normal" font-style="normal" fill="#333" stroke="#333" stroke-width="0.08" textLength="47.94" lengthAdjust="spacingAndGlyphs" >Missense mutation</text>
<text x="6.5" y="242.5" font-size="11.2" text-anchor="start" font-weight="bold" font-style="normal" fill="#000" >B</text>
<text x="89.0" y="249.8" font-size="8.4" text-anchor="start" font-weight="normal" font-style="normal" fill="#222" stroke="#222" stroke-width="0.08" textLength="93.5" lengthAdjust="spacingAndGlyphs" >Mutually exclusivity analysis</text>
<text x="42.0" y="289.51" font-size="6.0" text-anchor="end" font-weight="normal" font-style="italic" fill="#333" stroke="#333" stroke-width="0.08" >NF1</text>
<rect x="46.25" y="282.95" width="8.50" height="8.92" fill="#fce2c0" />
<rect x="55.25" y="282.95" width="8.50" height="8.92" fill="#f8d2a5" />
<circle cx="59.50" cy="287.41" r="0.8" fill="#111"/>
<rect x="64.25" y="282.95" width="8.50" height="8.92" fill="#fbdfbb" />
<rect x="73.25" y="282.95" width="8.50" height="8.92" fill="#fbdfbb" />
<rect x="82.25" y="282.95" width="8.50" height="8.92" fill="#a5d4dc" />
<rect x="91.25" y="282.95" width="8.50" height="8.92" fill="#fce2c0" />
<rect x="100.25" y="282.95" width="8.50" height="8.92" fill="#fce2c0" />
<rect x="109.25" y="282.95" width="8.50" height="8.92" fill="#fce2c0" />
<rect x="118.25" y="282.95" width="8.50" height="8.92" fill="#78c3c8" />
<circle cx="122.50" cy="287.41" r="0.8" fill="#111"/>
<rect x="127.25" y="282.95" width="8.50" height="8.92" fill="#f8d2a5" />
<circle cx="131.50" cy="287.41" r="0.8" fill="#111"/>
<rect x="136.25" y="282.95" width="8.50" height="8.92" fill="#7ec5cb" />
<circle cx="140.50" cy="287.41" r="0.8" fill="#111"/>
<rect x="145.25" y="282.95" width="8.50" height="8.92" fill="#a5d4dc" />
<rect x="154.25" y="282.95" width="8.50" height="8.92" fill="#a5d4dc" />
<rect x="163.25" y="282.95" width="8.50" height="8.92" fill="#a5d4dc" />
<rect x="172.25" y="282.95" width="8.50" height="8.92" fill="#a5d4dc" />
<rect x="181.25" y="282.95" width="8.50" height="8.92" fill="#78c3c8" />
<circle cx="185.50" cy="287.41" r="0.8" fill="#111"/>
<rect x="190.25" y="282.95" width="8.50" height="8.92" fill="#239688" />
<polygon points="194.50,284.81 195.22,286.72 197.26,286.81 195.66,288.09 196.20,290.06 194.50,288.93 192.80,290.06 193.34,288.09 191.74,286.81 193.78,286.72" fill="#1a1f22"/>
<rect x="199.25" y="282.95" width="8.50" height="8.92" fill="#a5d4dc" />
<rect x="208.25" y="282.95" width="8.50" height="8.92" fill="#fbdfbb" />
<rect x="217.25" y="282.95" width="8.50" height="8.92" fill="#fbdfbb" />
<text x="42.0" y="298.93" font-size="6.0" text-anchor="end" font-weight="normal" font-style="italic" fill="#333" stroke="#333" stroke-width="0.08" >JAK2</text>
<rect x="46.25" y="292.37" width="8.50" height="8.92" fill="#a5d4dc" />
<rect x="55.25" y="292.37" width="8.50" height="8.92" fill="#a5d4dc" />
<rect x="64.25" y="292.37" width="8.50" height="8.92" fill="#78c3c8" />
<circle cx="68.50" cy="296.83" r="0.8" fill="#111"/>
<rect x="73.25" y="292.37" width="8.50" height="8.92" fill="#fce2c0" />
<rect x="82.25" y="292.37" width="8.50" height="8.92" fill="#fad8b0" />
<rect x="91.25" y="292.37" width="8.50" height="8.92" fill="#35a999" />
<polygon points="95.50,294.23 96.22,296.14 98.26,296.23 96.66,297.51 97.20,299.48 95.50,298.35 93.80,299.48 94.34,297.51 92.74,296.23 94.78,296.14" fill="#1a1f22"/>
<rect x="100.25" y="292.37" width="8.50" height="8.92" fill="#a5d4dc" />
<rect x="109.25" y="292.37" width="8.50" height="8.92" fill="#a5d4dc" />
<rect x="118.25" y="292.37" width="8.50" height="8.92" fill="#a5d4dc" />
<rect x="127.25" y="292.37" width="8.50" height="8.92" fill="#a5d4dc" />
<rect x="136.25" y="292.37" width="8.50" height="8.92" fill="#f8d2a5" />
<circle cx="140.50" cy="296.83" r="0.8" fill="#111"/>
<rect x="145.25" y="292.37" width="8.50" height="8.92" fill="#fce2c0" />
<rect x="154.25" y="292.37" width="8.50" height="8.92" fill="#fce2c0" />
<rect x="163.25" y="292.37" width="8.50" height="8.92" fill="#a5d4dc" />
<rect x="172.25" y="292.37" width="8.50" height="8.92" fill="#fce2c0" />
<rect x="181.25" y="292.37" width="8.50" height="8.92" fill="#fce2c0" />
<rect x="190.25" y="292.37" width="8.50" height="8.92" fill="#a5d4dc" />
<rect x="199.25" y="292.37" width="8.50" height="8.92" fill="#a5d4dc" />
<rect x="208.25" y="292.37" width="8.50" height="8.92" fill="#a5d4dc" />
<text x="42.0" y="308.34999999999997" font-size="6.0" text-anchor="end" font-weight="normal" font-style="italic" fill="#333" stroke="#333" stroke-width="0.08" >SETD2</text>
<rect x="46.25" y="301.79" width="8.50" height="8.92" fill="#fbe4c6" />
<rect x="55.25" y="301.79" width="8.50" height="8.92" fill="#fce2c0" />
<rect x="64.25" y="301.79" width="8.50" height="8.92" fill="#e8b07a" />
<polygon points="68.50,303.65 69.22,305.56 71.26,305.65 69.66,306.93 70.20,308.90 68.50,307.77 66.80,308.90 67.34,306.93 65.74,305.65 67.78,305.56" fill="#1a1f22"/>
<rect x="73.25" y="301.79" width="8.50" height="8.92" fill="#fce2c0" />
<rect x="82.25" y="301.79" width="8.50" height="8.92" fill="#b9dfe3" />
<rect x="91.25" y="301.79" width="8.50" height="8.92" fill="#35a999" />
<polygon points="95.50,303.65 96.22,305.56 98.26,305.65 96.66,306.93 97.20,308.90 95.50,307.77 93.80,308.90 94.34,306.93 92.74,305.65 94.78,305.56" fill="#1a1f22"/>
<rect x="100.25" y="301.79" width="8.50" height="8.92" fill="#fce2c0" />
<rect x="109.25" y="301.79" width="8.50" height="8.92" fill="#f8d2a5" />
<circle cx="113.50" cy="306.25" r="0.8" fill="#111"/>
<rect x="118.25" y="301.79" width="8.50" height="8.92" fill="#afd9df" />
<rect x="127.25" y="301.79" width="8.50" height="8.92" fill="#fce2c0" />
<rect x="136.25" y="301.79" width="8.50" height="8.92" fill="#a5d4dc" />
<rect x="145.25" y="301.79" width="8.50" height="8.92" fill="#f8d2a5" />
<circle cx="149.50" cy="306.25" r="0.8" fill="#111"/>
<rect x="154.25" y="301.79" width="8.50" height="8.92" fill="#fce2c0" />
<rect x="163.25" y="301.79" width="8.50" height="8.92" fill="#7ec5cb" />
<circle cx="167.50" cy="306.25" r="0.8" fill="#111"/>
<rect x="172.25" y="301.79" width="8.50" height="8.92" fill="#fce2c0" />
<rect x="181.25" y="301.79" width="8.50" height="8.92" fill="#fce2c0" />
<rect x="190.25" y="301.79" width="8.50" height="8.92" fill="#fad8b0" />
<rect x="199.25" y="301.79" width="8.50" height="8.92" fill="#a5d4dc" />
<text x="42.0" y="317.77" font-size="6.0" text-anchor="end" font-weight="normal" font-style="italic" fill="#333" stroke="#333" stroke-width="0.08" >EP300</text>
<rect x="46.25" y="311.21" width="8.50" height="8.92" fill="#fce2c0" />
<rect x="55.25" y="311.21" width="8.50" height="8.92" fill="#afd9df" />
<rect x="64.25" y="311.21" width="8.50" height="8.92" fill="#a5d4dc" />
<rect x="73.25" y="311.21" width="8.50" height="8.92" fill="#a5d4dc" />
<rect x="82.25" y="311.21" width="8.50" height="8.92" fill="#a5d4dc" />
<rect x="91.25" y="311.21" width="8.50" height="8.92" fill="#b9dfe3" />
<rect x="100.25" y="311.21" width="8.50" height="8.92" fill="#fce2c0" />
<rect x="109.25" y="311.21" width="8.50" height="8.92" fill="#239688" />
<polygon points="113.50,313.07 114.22,314.98 116.26,315.07 114.66,316.35 115.20,318.32 113.50,317.19 111.80,318.32 112.34,316.35 110.74,315.07 112.78,314.98" fill="#1a1f22"/>
<rect x="118.25" y="311.21" width="8.50" height="8.92" fill="#fce2c0" />
<rect x="127.25" y="311.21" width="8.50" height="8.92" fill="#fce2c0" />
<rect x="136.25" y="311.21" width="8.50" height="8.92" fill="#fce2c0" />
<rect x="145.25" y="311.21" width="8.50" height="8.92" fill="#f8d2a5" />
<circle cx="149.50" cy="315.67" r="0.8" fill="#111"/>
<rect x="154.25" y="311.21" width="8.50" height="8.92" fill="#7ec5cb" />
<circle cx="158.50" cy="315.67" r="0.8" fill="#111"/>
<rect x="163.25" y="311.21" width="8.50" height="8.92" fill="#7ec5cb" />
<circle cx="167.50" cy="315.67" r="0.8" fill="#111"/>
<rect x="172.25" y="311.21" width="8.50" height="8.92" fill="#a5d4dc" />
<rect x="181.25" y="311.21" width="8.50" height="8.92" fill="#a5d4dc" />
<rect x="190.25" y="311.21" width="8.50" height="8.92" fill="#239688" />
<polygon points="194.50,313.07 195.22,314.98 197.26,315.07 195.66,316.35 196.20,318.32 194.50,317.19 192.80,318.32 193.34,316.35 191.74,315.07 193.78,314.98" fill="#1a1f22"/>
<text x="42.0" y="327.19" font-size="6.0" text-anchor="end" font-weight="normal" font-style="italic" fill="#333" stroke="#333" stroke-width="0.08" >DOT1L</text>
<rect x="46.25" y="320.63" width="8.50" height="8.92" fill="#ebb783" />
<polygon points="50.50,322.49 51.22,324.40 53.26,324.49 51.66,325.77 52.20,327.74 50.50,326.61 48.80,327.74 49.34,325.77 47.74,324.49 49.78,324.40" fill="#1a1f22"/>
<rect x="55.25" y="320.63" width="8.50" height="8.92" fill="#fce2c0" />
<rect x="64.25" y="320.63" width="8.50" height="8.92" fill="#fce2c0" />
<rect x="73.25" y="320.63" width="8.50" height="8.92" fill="#afd9df" />
<rect x="82.25" y="320.63" width="8.50" height="8.92" fill="#fce2c0" />
<rect x="91.25" y="320.63" width="8.50" height="8.92" fill="#fce2c0" />
<rect x="100.25" y="320.63" width="8.50" height="8.92" fill="#c3e4e6" />
<rect x="109.25" y="320.63" width="8.50" height="8.92" fill="#239688" />
<polygon points="113.50,322.49 114.22,324.40 116.26,324.49 114.66,325.77 115.20,327.74 113.50,326.61 111.80,327.74 112.34,325.77 110.74,324.49 112.78,324.40" fill="#1a1f22"/>
<rect x="118.25" y="320.63" width="8.50" height="8.92" fill="#fce2c0" />
<rect x="127.25" y="320.63" width="8.50" height="8.92" fill="#f8d2a5" />
<circle cx="131.50" cy="325.09" r="0.8" fill="#111"/>
<rect x="136.25" y="320.63" width="8.50" height="8.92" fill="#a5d4dc" />
<rect x="145.25" y="320.63" width="8.50" height="8.92" fill="#a5d4dc" />
<rect x="154.25" y="320.63" width="8.50" height="8.92" fill="#3cb0a0" />
<polygon points="158.50,322.49 159.22,324.40 161.26,324.49 159.66,325.77 160.20,327.74 158.50,326.61 156.80,327.74 157.34,325.77 155.74,324.49 157.78,324.40" fill="#1a1f22"/>
<rect x="163.25" y="320.63" width="8.50" height="8.92" fill="#7ec5cb" />
<circle cx="167.50" cy="325.09" r="0.8" fill="#111"/>
<rect x="172.25" y="320.63" width="8.50" height="8.92" fill="#a5d4dc" />
<rect x="181.25" y="320.63" width="8.50" height="8.92" fill="#a5d4dc" />
<text x="42.0" y="336.61" font-size="6.0" text-anchor="end" font-weight="normal" font-style="italic" fill="#333" stroke="#333" stroke-width="0.08" >PTPN11</text>
<rect x="46.25" y="330.05" width="8.50" height="8.92" fill="#fce2c0" />
<rect x="55.25" y="330.05" width="8.50" height="8.92" fill="#fce2c0" />
<rect x="64.25" y="330.05" width="8.50" height="8.92" fill="#afd9df" />
<rect x="73.25" y="330.05" width="8.50" height="8.92" fill="#afd9df" />
<rect x="82.25" y="330.05" width="8.50" height="8.92" fill="#fce2c0" />
<rect x="91.25" y="330.05" width="8.50" height="8.92" fill="#ebb783" />
<polygon points="95.50,331.91 96.22,333.82 98.26,333.91 96.66,335.19 97.20,337.16 95.50,336.03 93.80,337.16 94.34,335.19 92.74,333.91 94.78,333.82" fill="#1a1f22"/>
<rect x="100.25" y="330.05" width="8.50" height="8.92" fill="#ebb783" />
<polygon points="104.50,331.91 105.22,333.82 107.26,333.91 105.66,335.19 106.20,337.16 104.50,336.03 102.80,337.16 103.34,335.19 101.74,333.91 103.78,333.82" fill="#1a1f22"/>
<rect x="109.25" y="330.05" width="8.50" height="8.92" fill="#fce2c0" />
<rect x="118.25" y="330.05" width="8.50" height="8.92" fill="#3cb0a0" />
<polygon points="122.50,331.91 123.22,333.82 125.26,333.91 123.66,335.19 124.20,337.16 122.50,336.03 120.80,337.16 121.34,335.19 119.74,333.91 121.78,333.82" fill="#1a1f22"/>
<rect x="127.25" y="330.05" width="8.50" height="8.92" fill="#a5d4dc" />
<rect x="136.25" y="330.05" width="8.50" height="8.92" fill="#f8d2a5" />
<circle cx="140.50" cy="334.51" r="0.8" fill="#111"/>
<rect x="145.25" y="330.05" width="8.50" height="8.92" fill="#f8d2a5" />
<circle cx="149.50" cy="334.51" r="0.8" fill="#111"/>
<rect x="154.25" y="330.05" width="8.50" height="8.92" fill="#a5d4dc" />
<rect x="163.25" y="330.05" width="8.50" height="8.92" fill="#7ec5cb" />
<circle cx="167.50" cy="334.51" r="0.8" fill="#111"/>
<rect x="172.25" y="330.05" width="8.50" height="8.92" fill="#fce2c0" />
<text x="42.0" y="346.03" font-size="6.0" text-anchor="end" font-weight="normal" font-style="italic" fill="#333" stroke="#333" stroke-width="0.08" >FLT3</text>
<rect x="46.25" y="339.47" width="8.50" height="8.92" fill="#fce2c0" />
<rect x="55.25" y="339.47" width="8.50" height="8.92" fill="#fce2c0" />
<rect x="64.25" y="339.47" width="8.50" height="8.92" fill="#afd9df" />
<rect x="73.25" y="339.47" width="8.50" height="8.92" fill="#fce2c0" />
<rect x="82.25" y="339.47" width="8.50" height="8.92" fill="#78c3c8" />
<circle cx="86.50" cy="343.93" r="0.8" fill="#111"/>
<rect x="91.25" y="339.47" width="8.50" height="8.92" fill="#afd9df" />
<rect x="100.25" y="339.47" width="8.50" height="8.92" fill="#ebb783" />
<polygon points="104.50,341.33 105.22,343.24 107.26,343.33 105.66,344.61 106.20,346.58 104.50,345.45 102.80,346.58 103.34,344.61 101.74,343.33 103.78,343.24" fill="#1a1f22"/>
<rect x="109.25" y="339.47" width="8.50" height="8.92" fill="#fce2c0" />
<rect x="118.25" y="339.47" width="8.50" height="8.92" fill="#f8d2a5" />
<circle cx="122.50" cy="343.93" r="0.8" fill="#111"/>
<rect x="127.25" y="339.47" width="8.50" height="8.92" fill="#fce2c0" />
<rect x="136.25" y="339.47" width="8.50" height="8.92" fill="#f8d2a5" />
<circle cx="140.50" cy="343.93" r="0.8" fill="#111"/>
<rect x="145.25" y="339.47" width="8.50" height="8.92" fill="#f8d2a5" />
<circle cx="149.50" cy="343.93" r="0.8" fill="#111"/>
<rect x="154.25" y="339.47" width="8.50" height="8.92" fill="#fce2c0" />
<rect x="163.25" y="339.47" width="8.50" height="8.92" fill="#fce2c0" />
<text x="42.0" y="355.45" font-size="6.0" text-anchor="end" font-weight="normal" font-style="italic" fill="#333" stroke="#333" stroke-width="0.08" >NRAS</text>
<rect x="46.25" y="348.89" width="8.50" height="8.92" fill="#fce2c0" />
<rect x="55.25" y="348.89" width="8.50" height="8.92" fill="#afd9df" />
<rect x="64.25" y="348.89" width="8.50" height="8.92" fill="#fce2c0" />
<rect x="73.25" y="348.89" width="8.50" height="8.92" fill="#3cb0a0" />
<polygon points="77.50,350.75 78.22,352.66 80.26,352.75 78.66,354.03 79.20,356.00 77.50,354.87 75.80,356.00 76.34,354.03 74.74,352.75 76.78,352.66" fill="#1a1f22"/>
<rect x="82.25" y="348.89" width="8.50" height="8.92" fill="#afd9df" />
<rect x="91.25" y="348.89" width="8.50" height="8.92" fill="#fce2c0" />
<rect x="100.25" y="348.89" width="8.50" height="8.92" fill="#fce2c0" />
<rect x="109.25" y="348.89" width="8.50" height="8.92" fill="#fce2c0" />
<rect x="118.25" y="348.89" width="8.50" height="8.92" fill="#afd9df" />
<rect x="127.25" y="348.89" width="8.50" height="8.92" fill="#afd9df" />
<rect x="136.25" y="348.89" width="8.50" height="8.92" fill="#fce2c0" />
<rect x="145.25" y="348.89" width="8.50" height="8.92" fill="#f8d2a5" />
<circle cx="149.50" cy="353.35" r="0.8" fill="#111"/>
<rect x="154.25" y="348.89" width="8.50" height="8.92" fill="#a5d4dc" />
<text x="42.0" y="364.87" font-size="6.0" text-anchor="end" font-weight="normal" font-style="italic" fill="#333" stroke="#333" stroke-width="0.08" >CREBBP</text>
<rect x="46.25" y="358.31" width="8.50" height="8.92" fill="#fce2c0" />
<rect x="55.25" y="358.31" width="8.50" height="8.92" fill="#7ec5cb" />
<circle cx="59.50" cy="362.77" r="0.8" fill="#111"/>
<rect x="64.25" y="358.31" width="8.50" height="8.92" fill="#afd9df" />
<rect x="73.25" y="358.31" width="8.50" height="8.92" fill="#3cb0a0" />
<polygon points="77.50,360.17 78.22,362.08 80.26,362.17 78.66,363.45 79.20,365.42 77.50,364.29 75.80,365.42 76.34,363.45 74.74,362.17 76.78,362.08" fill="#1a1f22"/>
<rect x="82.25" y="358.31" width="8.50" height="8.92" fill="#fce2c0" />
<rect x="91.25" y="358.31" width="8.50" height="8.92" fill="#afd9df" />
<rect x="100.25" y="358.31" width="8.50" height="8.92" fill="#afd9df" />
<rect x="109.25" y="358.31" width="8.50" height="8.92" fill="#fce2c0" />
<rect x="118.25" y="358.31" width="8.50" height="8.92" fill="#fce2c0" />
<rect x="127.25" y="358.31" width="8.50" height="8.92" fill="#afd9df" />
<rect x="136.25" y="358.31" width="8.50" height="8.92" fill="#fce2c0" />
<rect x="145.25" y="358.31" width="8.50" height="8.92" fill="#fce2c0" />
<text x="42.0" y="374.29" font-size="6.0" text-anchor="end" font-weight="normal" font-style="italic" fill="#333" stroke="#333" stroke-width="0.08" >ATF7IP</text>
<rect x="46.25" y="367.73" width="8.50" height="8.92" fill="#fce2c0" />
<rect x="55.25" y="367.73" width="8.50" height="8.92" fill="#fce2c0" />
<rect x="64.25" y="367.73" width="8.50" height="8.92" fill="#f8d2a5" />
<circle cx="68.50" cy="372.19" r="0.8" fill="#111"/>
<rect x="73.25" y="367.73" width="8.50" height="8.92" fill="#fce2c0" />
<rect x="82.25" y="367.73" width="8.50" height="8.92" fill="#d28c4b" />
<polygon points="86.50,369.59 87.22,371.50 89.26,371.59 87.66,372.87 88.20,374.84 86.50,373.71 84.80,374.84 85.34,372.87 83.74,371.59 85.78,371.50" fill="#1a1f22"/>
<rect x="91.25" y="367.73" width="8.50" height="8.92" fill="#e8b07a" />
<polygon points="95.50,369.59 96.22,371.50 98.26,371.59 96.66,372.87 97.20,374.84 95.50,373.71 93.80,374.84 94.34,372.87 92.74,371.59 94.78,371.50" fill="#1a1f22"/>
<rect x="100.25" y="367.73" width="8.50" height="8.92" fill="#239688" />
<polygon points="104.50,369.59 105.22,371.50 107.26,371.59 105.66,372.87 106.20,374.84 104.50,373.71 102.80,374.84 103.34,372.87 101.74,371.59 103.78,371.50" fill="#1a1f22"/>
<rect x="109.25" y="367.73" width="8.50" height="8.92" fill="#fce2c0" />
<rect x="118.25" y="367.73" width="8.50" height="8.92" fill="#fce2c0" />
<rect x="127.25" y="367.73" width="8.50" height="8.92" fill="#f8d2a5" />
<circle cx="131.50" cy="372.19" r="0.8" fill="#111"/>
<rect x="136.25" y="367.73" width="8.50" height="8.92" fill="#7ec5cb" />
<circle cx="140.50" cy="372.19" r="0.8" fill="#111"/>
<text x="42.0" y="383.71" font-size="6.0" text-anchor="end" font-weight="normal" font-style="italic" fill="#333" stroke="#333" stroke-width="0.08" >KMT2D</text>
<rect x="46.25" y="377.15" width="8.50" height="8.92" fill="#fce2c0" />
<rect x="55.25" y="377.15" width="8.50" height="8.92" fill="#fce2c0" />
<rect x="64.25" y="377.15" width="8.50" height="8.92" fill="#ebb783" />
<polygon points="68.50,379.01 69.22,380.92 71.26,381.01 69.66,382.29 70.20,384.26 68.50,383.13 66.80,384.26 67.34,382.29 65.74,381.01 67.78,380.92" fill="#1a1f22"/>
<rect x="73.25" y="377.15" width="8.50" height="8.92" fill="#b9dfe3" />
<rect x="82.25" y="377.15" width="8.50" height="8.92" fill="#fce2c0" />
<rect x="91.25" y="377.15" width="8.50" height="8.92" fill="#fad8b0" />
<circle cx="95.50" cy="381.61" r="0.8" fill="#111"/>
<rect x="100.25" y="377.15" width="8.50" height="8.92" fill="#fce2c0" />
<rect x="109.25" y="377.15" width="8.50" height="8.92" fill="#afd9df" />
<rect x="118.25" y="377.15" width="8.50" height="8.92" fill="#7ec5cb" />
<circle cx="122.50" cy="381.61" r="0.8" fill="#111"/>
<rect x="127.25" y="377.15" width="8.50" height="8.92" fill="#fce2c0" />
<text x="42.0" y="393.13" font-size="6.0" text-anchor="end" font-weight="normal" font-style="italic" fill="#333" stroke="#333" stroke-width="0.08" >ATM</text>
<rect x="46.25" y="386.57" width="8.50" height="8.92" fill="#98cfd6" />
<rect x="55.25" y="386.57" width="8.50" height="8.92" fill="#a5d4dc" />
<rect x="64.25" y="386.57" width="8.50" height="8.92" fill="#fce2c0" />
<rect x="73.25" y="386.57" width="8.50" height="8.92" fill="#afd9df" />
<rect x="82.25" y="386.57" width="8.50" height="8.92" fill="#afd9df" />
<rect x="91.25" y="386.57" width="8.50" height="8.92" fill="#fce2c0" />
<rect x="100.25" y="386.57" width="8.50" height="8.92" fill="#fce2c0" />
<rect x="109.25" y="386.57" width="8.50" height="8.92" fill="#e8b07a" />
<polygon points="113.50,388.43 114.22,390.34 116.26,390.43 114.66,391.71 115.20,393.68 113.50,392.55 111.80,393.68 112.34,391.71 110.74,390.43 112.78,390.34" fill="#1a1f22"/>
<rect x="118.25" y="386.57" width="8.50" height="8.92" fill="#fce2c0" />
<text x="42.0" y="402.55" font-size="6.0" text-anchor="end" font-weight="normal" font-style="italic" fill="#333" stroke="#333" stroke-width="0.08" >MGA</text>
<rect x="46.25" y="395.99" width="8.50" height="8.92" fill="#b9dfe3" />
<rect x="55.25" y="395.99" width="8.50" height="8.92" fill="#fce2c0" />
<rect x="64.25" y="395.99" width="8.50" height="8.92" fill="#fce2c0" />
<rect x="73.25" y="395.99" width="8.50" height="8.92" fill="#fce2c0" />
<rect x="82.25" y="395.99" width="8.50" height="8.92" fill="#fce2c0" />
<rect x="91.25" y="395.99" width="8.50" height="8.92" fill="#f8d2a5" />
<circle cx="95.50" cy="400.45" r="0.8" fill="#111"/>
<rect x="100.25" y="395.99" width="8.50" height="8.92" fill="#f8d2a5" />
<circle cx="104.50" cy="400.45" r="0.8" fill="#111"/>
<rect x="109.25" y="395.99" width="8.50" height="8.92" fill="#b9dfe3" />
<text x="42.0" y="411.96999999999997" font-size="6.0" text-anchor="end" font-weight="normal" font-style="italic" fill="#333" stroke="#333" stroke-width="0.08" >AKT1</text>
<rect x="46.25" y="405.41" width="8.50" height="8.92" fill="#f8d2a5" />
<circle cx="50.50" cy="409.87" r="0.8" fill="#111"/>
<rect x="55.25" y="405.41" width="8.50" height="8.92" fill="#afd9df" />
<rect x="64.25" y="405.41" width="8.50" height="8.92" fill="#a5d4dc" />
<rect x="73.25" y="405.41" width="8.50" height="8.92" fill="#afd9df" />
<rect x="82.25" y="405.41" width="8.50" height="8.92" fill="#f8d2a5" />
<circle cx="86.50" cy="409.87" r="0.8" fill="#111"/>
<rect x="91.25" y="405.41" width="8.50" height="8.92" fill="#fce2c0" />
<rect x="100.25" y="405.41" width="8.50" height="8.92" fill="#f8d2a5" />
<circle cx="104.50" cy="409.87" r="0.8" fill="#111"/>
<text x="42.0" y="421.39" font-size="6.0" text-anchor="end" font-weight="normal" font-style="italic" fill="#333" stroke="#333" stroke-width="0.08" >ETV6</text>
<rect x="46.25" y="414.83" width="8.50" height="8.92" fill="#fce2c0" />
<rect x="55.25" y="414.83" width="8.50" height="8.92" fill="#fce2c0" />
<rect x="64.25" y="414.83" width="8.50" height="8.92" fill="#fce2c0" />
<rect x="73.25" y="414.83" width="8.50" height="8.92" fill="#fce2c0" />
<rect x="82.25" y="414.83" width="8.50" height="8.92" fill="#dfa267" />
<polygon points="86.50,416.69 87.22,418.60 89.26,418.69 87.66,419.97 88.20,421.94 86.50,420.81 84.80,421.94 85.34,419.97 83.74,418.69 85.78,418.60" fill="#1a1f22"/>
<rect x="91.25" y="414.83" width="8.50" height="8.92" fill="#fce2c0" />
<text x="42.0" y="430.81" font-size="6.0" text-anchor="end" font-weight="normal" font-style="italic" fill="#333" stroke="#333" stroke-width="0.08" >IKZF1</text>
<rect x="46.25" y="424.25" width="8.50" height="8.92" fill="#d28c4b" />
<polygon points="50.50,426.11 51.22,428.02 53.26,428.11 51.66,429.39 52.20,431.36 50.50,430.23 48.80,431.36 49.34,429.39 47.74,428.11 49.78,428.02" fill="#1a1f22"/>
<rect x="55.25" y="424.25" width="8.50" height="8.92" fill="#fce2c0" />
<rect x="64.25" y="424.25" width="8.50" height="8.92" fill="#fce2c0" />
<rect x="73.25" y="424.25" width="8.50" height="8.92" fill="#f8d2a5" />
<circle cx="77.50" cy="428.71" r="0.8" fill="#111"/>
<rect x="82.25" y="424.25" width="8.50" height="8.92" fill="#98cfd6" />
<text x="42.0" y="440.22999999999996" font-size="6.0" text-anchor="end" font-weight="normal" font-style="italic" fill="#333" stroke="#333" stroke-width="0.08" >TP53</text>
<rect x="46.25" y="433.67" width="8.50" height="8.92" fill="#dfa267" />
<polygon points="50.50,435.53 51.22,437.44 53.26,437.53 51.66,438.81 52.20,440.78 50.50,439.65 48.80,440.78 49.34,438.81 47.74,437.53 49.78,437.44" fill="#1a1f22"/>
<rect x="55.25" y="433.67" width="8.50" height="8.92" fill="#f8d2a5" />
<circle cx="59.50" cy="438.13" r="0.8" fill="#111"/>
<rect x="64.25" y="433.67" width="8.50" height="8.92" fill="#a5d4dc" />
<rect x="73.25" y="433.67" width="8.50" height="8.92" fill="#f8d2a5" />
<circle cx="77.50" cy="438.13" r="0.8" fill="#111"/>
<text x="42.0" y="449.65" font-size="6.0" text-anchor="end" font-weight="normal" font-style="italic" fill="#333" stroke="#333" stroke-width="0.08" >CDKN2B</text>
<rect x="46.25" y="443.09" width="8.50" height="8.92" fill="#f8d2a5" />
<circle cx="50.50" cy="447.55" r="0.8" fill="#111"/>
<rect x="55.25" y="443.09" width="8.50" height="8.92" fill="#239688" />
<polygon points="59.50,444.95 60.22,446.86 62.26,446.95 60.66,448.23 61.20,450.20 59.50,449.07 57.80,450.20 58.34,448.23 56.74,446.95 58.78,446.86" fill="#1a1f22"/>
<rect x="64.25" y="443.09" width="8.50" height="8.92" fill="#31a596" />
<polygon points="68.50,444.95 69.22,446.86 71.26,446.95 69.66,448.23 70.20,450.20 68.50,449.07 66.80,450.20 67.34,448.23 65.74,446.95 67.78,446.86" fill="#1a1f22"/>
<text x="42.0" y="459.07" font-size="6.0" text-anchor="end" font-weight="normal" font-style="italic" fill="#333" stroke="#333" stroke-width="0.08" >PAX5</text>
<rect x="46.25" y="452.51" width="8.50" height="8.92" fill="#f8d2a5" />
<circle cx="50.50" cy="456.97" r="0.8" fill="#111"/>
<rect x="55.25" y="452.51" width="8.50" height="8.92" fill="#31a596" />
<polygon points="59.50,454.37 60.22,456.28 62.26,456.37 60.66,457.65 61.20,459.62 59.50,458.49 57.80,459.62 58.34,457.65 56.74,456.37 58.78,456.28" fill="#1a1f22"/>
<text x="42.0" y="468.48999999999995" font-size="6.0" text-anchor="end" font-weight="normal" font-style="italic" fill="#333" stroke="#333" stroke-width="0.08" >CDKN2A</text>
<rect x="46.25" y="461.93" width="8.50" height="8.92" fill="#fce2c0" />
<text transform="translate(52.50,279.6) rotate(-90)" font-size="6.3" font-weight="bold" fill="#111">MLC</text>
<text transform="translate(61.50,279.6) rotate(-90)" font-size="5.95" font-style="italic" fill="#2a2a2a" stroke="#2a2a2a" stroke-width="0.12">CDKN2A</text>
<text transform="translate(70.50,279.6) rotate(-90)" font-size="5.95" font-style="italic" fill="#2a2a2a" stroke="#2a2a2a" stroke-width="0.12">PAX5</text>
<text transform="translate(79.50,279.6) rotate(-90)" font-size="5.95" font-style="italic" fill="#2a2a2a" stroke="#2a2a2a" stroke-width="0.12">CDKN2B</text>
<text transform="translate(88.50,279.6) rotate(-90)" font-size="5.95" font-style="italic" fill="#2a2a2a" stroke="#2a2a2a" stroke-width="0.12">TP53</text>
<text transform="translate(97.50,279.6) rotate(-90)" font-size="5.95" font-style="italic" fill="#2a2a2a" stroke="#2a2a2a" stroke-width="0.12">IKZF1</text>
<text transform="translate(106.50,279.6) rotate(-90)" font-size="5.95" font-style="italic" fill="#2a2a2a" stroke="#2a2a2a" stroke-width="0.12">ETV6</text>
<text transform="translate(115.50,279.6) rotate(-90)" font-size="5.95" font-style="italic" fill="#2a2a2a" stroke="#2a2a2a" stroke-width="0.12">AKT1</text>
<text transform="translate(124.50,279.6) rotate(-90)" font-size="5.95" font-style="italic" fill="#2a2a2a" stroke="#2a2a2a" stroke-width="0.12">MGA</text>
<text transform="translate(133.50,279.6) rotate(-90)" font-size="5.95" font-style="italic" fill="#2a2a2a" stroke="#2a2a2a" stroke-width="0.12">ATM</text>
<text transform="translate(142.50,279.6) rotate(-90)" font-size="5.95" font-style="italic" fill="#2a2a2a" stroke="#2a2a2a" stroke-width="0.12">KMT2D</text>
<text transform="translate(151.50,279.6) rotate(-90)" font-size="5.95" font-style="italic" fill="#2a2a2a" stroke="#2a2a2a" stroke-width="0.12">ATF7IP</text>
<text transform="translate(160.50,279.6) rotate(-90)" font-size="5.95" font-style="italic" fill="#2a2a2a" stroke="#2a2a2a" stroke-width="0.12">CREBBP</text>
<text transform="translate(169.50,279.6) rotate(-90)" font-size="5.95" font-style="italic" fill="#2a2a2a" stroke="#2a2a2a" stroke-width="0.12">NRAS</text>
<text transform="translate(178.50,279.6) rotate(-90)" font-size="5.95" font-style="italic" fill="#2a2a2a" stroke="#2a2a2a" stroke-width="0.12">FLT3</text>
<text transform="translate(187.50,279.6) rotate(-90)" font-size="5.95" font-style="italic" fill="#2a2a2a" stroke="#2a2a2a" stroke-width="0.12">PTPN11</text>
<text transform="translate(196.50,279.6) rotate(-90)" font-size="5.95" font-style="italic" fill="#2a2a2a" stroke="#2a2a2a" stroke-width="0.12">DOT1L</text>
<text transform="translate(205.50,279.6) rotate(-90)" font-size="5.95" font-style="italic" fill="#2a2a2a" stroke="#2a2a2a" stroke-width="0.12">EP300</text>
<text transform="translate(214.50,279.6) rotate(-90)" font-size="5.95" font-style="italic" fill="#2a2a2a" stroke="#2a2a2a" stroke-width="0.12">SETD2</text>
<text transform="translate(223.50,279.6) rotate(-90)" font-size="5.95" font-style="italic" fill="#2a2a2a" stroke="#2a2a2a" stroke-width="0.12">JAK2</text>
<text transform="translate(232.50,279.6) rotate(-90)" font-size="5.95" font-style="italic" fill="#2a2a2a" stroke="#2a2a2a" stroke-width="0.12">NF1</text>
<rect x="45.80" y="282.50" width="9.40" height="188.80" fill="none" stroke="#e8806a" stroke-width="1"/>
<text x="42.3" y="479.0" font-size="6.3" text-anchor="end" font-weight="bold" font-style="normal" fill="#111" >MLC</text>
<polygon points="185.40,346.00 185.79,347.06 186.92,347.11 186.04,347.81 186.34,348.89 185.40,348.27 184.46,348.89 184.76,347.81 183.88,347.11 185.01,347.06" fill="#222"/>
<text x="190.0" y="350.7" font-size="6.1" fill="#2a2a2a" stroke="#2a2a2a" stroke-width="0.12" textLength="19.3" lengthAdjust="spacingAndGlyphs"><tspan font-style="italic">P</tspan> &lt; .05</text>
<circle cx="185.5" cy="358.7" r="0.8" fill="#111"/>
<text x="190.0" y="359.7" font-size="6.1" fill="#2a2a2a" stroke="#2a2a2a" stroke-width="0.12" textLength="15.4" lengthAdjust="spacingAndGlyphs"><tspan font-style="italic">P</tspan> &lt; .1</text>
<defs><linearGradient id="cb" x1="0" y1="0" x2="0" y2="1"><stop offset="0.000" stop-color="#239688"/><stop offset="0.083" stop-color="#35a999"/><stop offset="0.167" stop-color="#52b7af"/><stop offset="0.250" stop-color="#78c3c8"/><stop offset="0.333" stop-color="#98cfd6"/><stop offset="0.417" stop-color="#c3e4e6"/><stop offset="0.500" stop-color="#f8eede"/><stop offset="0.583" stop-color="#fce2c0"/><stop offset="0.667" stop-color="#f8d2a5"/><stop offset="0.750" stop-color="#f0c190"/><stop offset="0.833" stop-color="#e8b07a"/><stop offset="0.917" stop-color="#d28c4b"/><stop offset="1.000" stop-color="#be7337"/></linearGradient></defs>
<rect x="151.90" y="422.00" width="3.80" height="55.30" fill="url(#cb)" />
<rect x="156.70" y="422.00" width="0.70" height="55.30" fill="#333" />
<rect x="157.20" y="421.90" width="1.40" height="0.60" fill="#333" />
<text x="162.0" y="424.3" font-size="6.09" text-anchor="start" font-weight="normal" font-style="normal" fill="#333" stroke="#333" stroke-width="0.08" textLength="48.19" lengthAdjust="spacingAndGlyphs" >&gt;3 (Co-occurence)</text>
<rect x="157.20" y="431.02" width="1.40" height="0.60" fill="#333" />
<text x="162.0" y="433.42" font-size="6.09" text-anchor="start" font-weight="normal" font-style="normal" fill="#333" stroke="#333" stroke-width="0.08" textLength="3.23" lengthAdjust="spacingAndGlyphs" >2</text>
<rect x="157.20" y="440.14" width="1.40" height="0.60" fill="#333" />
<text x="162.0" y="442.54" font-size="6.09" text-anchor="start" font-weight="normal" font-style="normal" fill="#333" stroke="#333" stroke-width="0.08" textLength="3.23" lengthAdjust="spacingAndGlyphs" >1</text>
<rect x="157.20" y="449.26" width="1.40" height="0.60" fill="#333" />
<text x="162.0" y="451.66" font-size="6.09" text-anchor="start" font-weight="normal" font-style="normal" fill="#333" stroke="#333" stroke-width="0.08" textLength="3.23" lengthAdjust="spacingAndGlyphs" >0</text>
<rect x="157.20" y="458.38" width="1.40" height="0.60" fill="#333" />
<text x="162.0" y="460.78000000000003" font-size="6.09" text-anchor="start" font-weight="normal" font-style="normal" fill="#333" stroke="#333" stroke-width="0.08" textLength="3.23" lengthAdjust="spacingAndGlyphs" >1</text>
<rect x="157.20" y="467.50" width="1.40" height="0.60" fill="#333" />
<text x="162.0" y="469.9" font-size="6.09" text-anchor="start" font-weight="normal" font-style="normal" fill="#333" stroke="#333" stroke-width="0.08" textLength="3.23" lengthAdjust="spacingAndGlyphs" >2</text>
<rect x="157.20" y="476.62" width="1.40" height="0.60" fill="#333" />
<text x="162.0" y="479.02" font-size="6.09" text-anchor="start" font-weight="normal" font-style="normal" fill="#333" stroke="#333" stroke-width="0.08" textLength="60.76" lengthAdjust="spacingAndGlyphs" >&gt; 3 (Mutually exclusive)</text>
<text transform="translate(147.4,449) rotate(-90)" font-size="5.9" text-anchor="middle" fill="#2a2a2a" stroke="#2a2a2a" stroke-width="0.1" textLength="38.5" lengthAdjust="spacingAndGlyphs">-log10(<tspan font-style="italic">P</tspan>-value)</text>
</svg>
<div class="frame"></div>
</body></html>
